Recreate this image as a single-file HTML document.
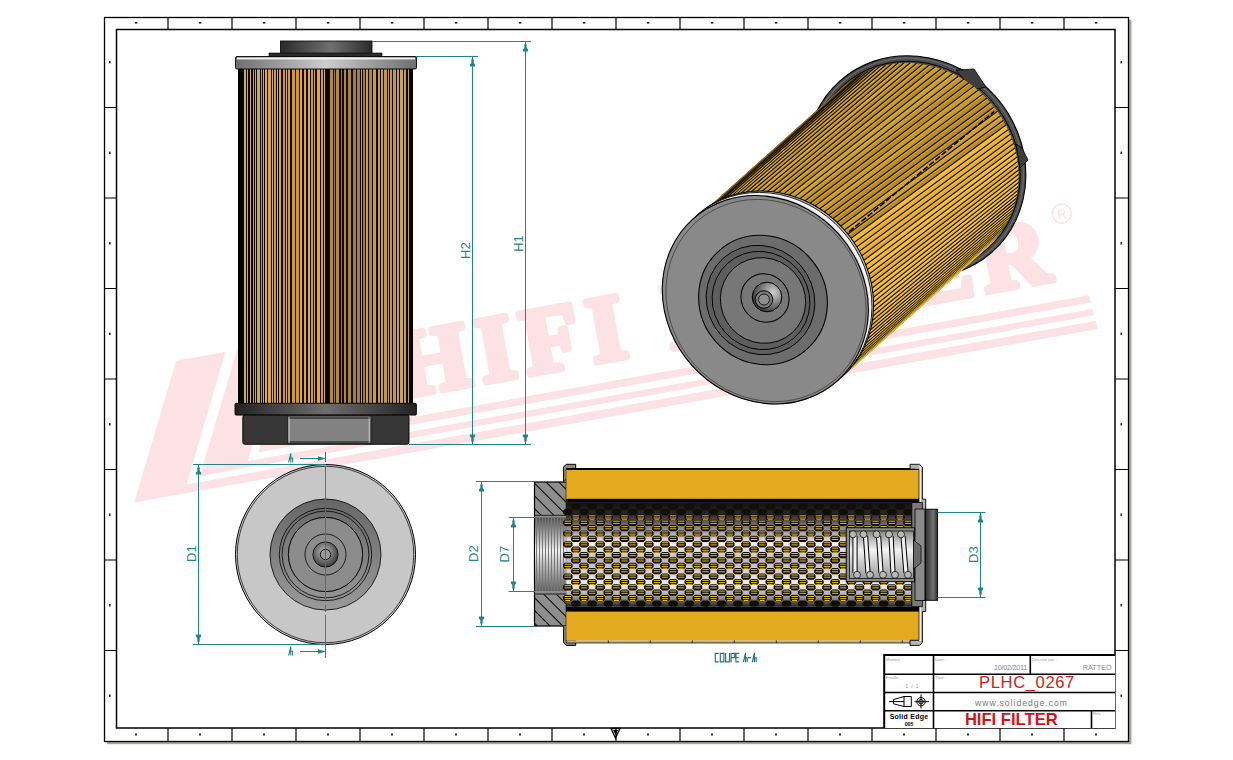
<!DOCTYPE html><html><head><meta charset="utf-8"><style>
html,body{margin:0;padding:0;background:#fff;width:1233px;height:760px;overflow:hidden}
svg{display:block;font-family:"Liberation Sans",sans-serif}
</style></head><body>
<svg width="1233" height="760" viewBox="0 0 1233 760">
<rect width="1233" height="760" fill="#fff"/>
<defs>
<linearGradient id="gCap" x1="0" x2="1" y1="0" y2="0">
 <stop offset="0" stop-color="#2a2a2a"/><stop offset="0.55" stop-color="#707070"/><stop offset="1" stop-color="#2a2a2a"/>
</linearGradient>
<linearGradient id="gRim" x1="0" x2="1" y1="0" y2="0">
 <stop offset="0" stop-color="#6e6e6e"/><stop offset="0.5" stop-color="#cdcdcd"/><stop offset="1" stop-color="#6e6e6e"/>
</linearGradient>
<linearGradient id="gRimB" x1="0" x2="1" y1="0" y2="0">
 <stop offset="0" stop-color="#222"/><stop offset="0.5" stop-color="#6e6e6e"/><stop offset="1" stop-color="#222"/>
</linearGradient>
<linearGradient id="gFace" x1="0" x2="1" y1="0" y2="0">
 <stop offset="0" stop-color="#5a5a5a"/><stop offset="0.5" stop-color="#8a8a8a"/><stop offset="1" stop-color="#5e5e5e"/>
</linearGradient>
<linearGradient id="gTube" x1="0" x2="0" y1="0" y2="1">
 <stop offset="0" stop-color="#101010"/><stop offset="0.12" stop-color="#2a2a2e"/><stop offset="0.25" stop-color="#8a8a92"/><stop offset="0.4" stop-color="#f2f2f6"/>
 <stop offset="0.55" stop-color="#b8b8c0"/><stop offset="0.8" stop-color="#f0f0f4"/><stop offset="0.92" stop-color="#8a8a90"/><stop offset="1" stop-color="#202020"/>
</linearGradient>
<linearGradient id="gThread" x1="0" x2="0" y1="0" y2="1">
 <stop offset="0" stop-color="#505050"/><stop offset="0.45" stop-color="#f0f0f0"/><stop offset="1" stop-color="#606060"/>
</linearGradient>
<linearGradient id="gEnd" x1="0" x2="1" y1="0" y2="0">
 <stop offset="0" stop-color="#2e2e2e"/><stop offset="0.65" stop-color="#727272"/><stop offset="1" stop-color="#2a2a2a"/>
</linearGradient>
<linearGradient id="gSpring" x1="0" x2="0" y1="0" y2="1">
 <stop offset="0" stop-color="#8a8a8a"/><stop offset="0.4" stop-color="#f4f4f4"/><stop offset="1" stop-color="#9a9a9a"/>
</linearGradient>
<linearGradient id="gDark" x1="0" x2="0" y1="0" y2="1">
 <stop offset="0" stop-color="#666"/><stop offset="1" stop-color="#9a9a9a"/>
</linearGradient>
<radialGradient id="gHub" cx="0.45" cy="0.4" r="0.6">
 <stop offset="0" stop-color="#bdbdbd"/><stop offset="1" stop-color="#3a3a3a"/>
</radialGradient>
<pattern id="hatch" width="9" height="9" patternUnits="userSpaceOnUse" patternTransform="translate(534,482) rotate(45)">
 <rect width="9" height="9" fill="#8e8e8e"/><rect x="0" y="0" width="9" height="1" fill="#000"/>
</pattern>
</defs>
<defs><filter id="fBlur" x="-5%" y="-5%" width="110%" height="110%"><feGaussianBlur stdDeviation="0.7"/></filter></defs>
<g filter="url(#fBlur)"><g transform="translate(134.3,502.4) rotate(-10.20)" fill="#fde2e5">
<polygon points="66.2,-132 116.3,-132 54.5,-8.4 978,-8.4 979,0 0,0"/>
<polygon points="128.1,-132 172.4,-132 119.2,-20.6 977,-20.6 978,-14.2 69.2,-14.2"/>
<polygon points="184.2,-132 228,-132 181.5,-34.8 976,-34.8 977,-27.3 131,-27.3"/>
<text x="282" y="-56" font-family="Liberation Serif" font-weight="bold" font-size="94" letter-spacing="9.25" stroke="#fde2e5" stroke-width="6.5" stroke-linejoin="round">HIFI FILTER</text>
<circle cx="964" cy="-120" r="9.5" fill="none" stroke="#fde2e5" stroke-width="1.6"/>
<text x="964" y="-115" font-size="13" text-anchor="middle" font-family="Liberation Sans">R</text>
</g></g>
<rect x="1129" y="20" width="2.5" height="724" fill="#a6a69e"/>
<rect x="107" y="742" width="1024" height="2.2" fill="#a6a69e"/>
<rect x="104.5" y="17.5" width="1024" height="724" fill="none" stroke="#000" stroke-width="1.3"/>
<rect x="116.5" y="29.5" width="998.5" height="698.5" fill="none" stroke="#000" stroke-width="1.5"/>
<path d="M168.0 17.5V29.5M168.0 728V741.5M232.0 17.5V29.5M232.0 728V741.5M296.0 17.5V29.5M296.0 728V741.5M360.0 17.5V29.5M360.0 728V741.5M424.0 17.5V29.5M424.0 728V741.5M488.0 17.5V29.5M488.0 728V741.5M552.0 17.5V29.5M552.0 728V741.5M616.0 17.5V29.5M616.0 728V741.5M680.0 17.5V29.5M680.0 728V741.5M744.0 17.5V29.5M744.0 728V741.5M808.0 17.5V29.5M808.0 728V741.5M872.0 17.5V29.5M872.0 728V741.5M936.0 17.5V29.5M936.0 728V741.5M1000.0 17.5V29.5M1000.0 728V741.5M1064.0 17.5V29.5M1064.0 728V741.5M104.5 107.5H116.5M1115 107.5H1128.5M104.5 198.0H116.5M1115 198.0H1128.5M104.5 288.5H116.5M1115 288.5H1128.5M104.5 379.0H116.5M1115 379.0H1128.5M104.5 469.5H116.5M1115 469.5H1128.5M104.5 560.0H116.5M1115 560.0H1128.5M104.5 650.5H116.5M1115 650.5H1128.5" stroke="#000" stroke-width="1.2" fill="none"/>
<g fill="#222"><rect x="134.8" y="22" width="2.5" height="1.6"/><rect x="135.0" y="733.5" width="2" height="2"/><rect x="198.8" y="22" width="2.5" height="1.6"/><rect x="199.0" y="733.5" width="2" height="2"/><rect x="262.8" y="22" width="2.5" height="1.6"/><rect x="263.0" y="733.5" width="2" height="2"/><rect x="326.8" y="22" width="2.5" height="1.6"/><rect x="327.0" y="733.5" width="2" height="2"/><rect x="390.8" y="22" width="2.5" height="1.6"/><rect x="391.0" y="733.5" width="2" height="2"/><rect x="454.8" y="22" width="2.5" height="1.6"/><rect x="455.0" y="733.5" width="2" height="2"/><rect x="518.8" y="22" width="2.5" height="1.6"/><rect x="519.0" y="733.5" width="2" height="2"/><rect x="582.8" y="22" width="2.5" height="1.6"/><rect x="583.0" y="733.5" width="2" height="2"/><rect x="646.8" y="22" width="2.5" height="1.6"/><rect x="647.0" y="733.5" width="2" height="2"/><rect x="710.8" y="22" width="2.5" height="1.6"/><rect x="711.0" y="733.5" width="2" height="2"/><rect x="774.8" y="22" width="2.5" height="1.6"/><rect x="775.0" y="733.5" width="2" height="2"/><rect x="838.8" y="22" width="2.5" height="1.6"/><rect x="839.0" y="733.5" width="2" height="2"/><rect x="902.8" y="22" width="2.5" height="1.6"/><rect x="903.0" y="733.5" width="2" height="2"/><rect x="966.8" y="22" width="2.5" height="1.6"/><rect x="967.0" y="733.5" width="2" height="2"/><rect x="1030.8" y="22" width="2.5" height="1.6"/><rect x="1031.0" y="733.5" width="2" height="2"/><rect x="1094.8" y="22" width="2.5" height="1.6"/><rect x="1095.0" y="733.5" width="2" height="2"/><rect x="109" y="61.0" width="1.6" height="2.4"/><rect x="1120.5" y="61.0" width="1.6" height="2.4"/><rect x="109" y="151.6" width="1.6" height="2.4"/><rect x="1120.5" y="151.6" width="1.6" height="2.4"/><rect x="109" y="242.1" width="1.6" height="2.4"/><rect x="1120.5" y="242.1" width="1.6" height="2.4"/><rect x="109" y="332.6" width="1.6" height="2.4"/><rect x="1120.5" y="332.6" width="1.6" height="2.4"/><rect x="109" y="423.1" width="1.6" height="2.4"/><rect x="1120.5" y="423.1" width="1.6" height="2.4"/><rect x="109" y="513.5" width="1.6" height="2.4"/><rect x="1120.5" y="513.5" width="1.6" height="2.4"/><rect x="109" y="604.0" width="1.6" height="2.4"/><rect x="1120.5" y="604.0" width="1.6" height="2.4"/><rect x="109" y="694.5" width="1.6" height="2.4"/><rect x="1120.5" y="694.5" width="1.6" height="2.4"/></g>
<path d="M611 728.5 L620 728.5 L615.5 738 Z" fill="none" stroke="#000" stroke-width="1.3"/><path d="M613 730 L618 730 L615.5 735Z" fill="#000"/>
<rect x="238" y="69" width="175" height="334.5" fill="#120600"/>
<rect x="238" y="69" width="6" height="334.5" fill="#000"/>
<rect x="244" y="69" width="2" height="334.5" fill="#c8aa60"/><rect x="247" y="69" width="1" height="334.5" fill="#c8aa60"/><rect x="250" y="69" width="1" height="334.5" fill="#d4b462"/><rect x="253" y="69" width="1" height="334.5" fill="#c0a458"/><rect x="255" y="69" width="1" height="334.5" fill="#c8aa60"/><rect x="257" y="69" width="3" height="334.5" fill="#c8aa60"/><rect x="261" y="69" width="1" height="334.5" fill="#c0a458"/><rect x="263" y="69" width="1" height="334.5" fill="#d8b050"/><rect x="265" y="69" width="2" height="334.5" fill="#d8b050"/><rect x="268" y="69" width="3" height="334.5" fill="#dca828"/><rect x="272" y="69" width="1" height="334.5" fill="#d8b050"/><rect x="274" y="69" width="2" height="334.5" fill="#c8a040"/><rect x="277" y="69" width="1" height="334.5" fill="#d8b050"/><rect x="279" y="69" width="2" height="334.5" fill="#dca828"/><rect x="283" y="69" width="2" height="334.5" fill="#d09a20"/><rect x="286" y="69" width="1" height="334.5" fill="#d8b050"/><rect x="288" y="69" width="2" height="334.5" fill="#c8a040"/><rect x="292" y="69" width="3" height="334.5" fill="#d09a20"/><rect x="296" y="69" width="3" height="334.5" fill="#d09a20"/><rect x="300" y="69" width="2" height="334.5" fill="#e4ac2a"/><rect x="304" y="69" width="2" height="334.5" fill="#dca828"/><rect x="308" y="69" width="2" height="334.5" fill="#d8b050"/><rect x="311" y="69" width="2" height="334.5" fill="#c8a040"/><rect x="314" y="69" width="1" height="334.5" fill="#dca828"/><rect x="317" y="69" width="3" height="334.5" fill="#e4ac2a"/><rect x="321" y="69" width="2" height="334.5" fill="#c8a040"/><rect x="324" y="69" width="1" height="334.5" fill="#dca828"/><rect x="330" y="69" width="3" height="334.5" fill="#b08c30"/><rect x="334" y="69" width="1" height="334.5" fill="#9a7a28"/><rect x="336" y="69" width="3" height="334.5" fill="#b08c30"/><rect x="341" y="69" width="1" height="334.5" fill="#9a7a28"/><rect x="344" y="69" width="2" height="334.5" fill="#b08c30"/><rect x="348" y="69" width="3" height="334.5" fill="#a88830"/><rect x="353" y="69" width="3" height="334.5" fill="#a08038"/><rect x="357" y="69" width="3" height="334.5" fill="#a08038"/><rect x="361" y="69" width="1" height="334.5" fill="#c8a038"/><rect x="363" y="69" width="2" height="334.5" fill="#a08038"/><rect x="366" y="69" width="2" height="334.5" fill="#c8a038"/><rect x="369" y="69" width="3" height="334.5" fill="#b08a30"/><rect x="373" y="69" width="3" height="334.5" fill="#c8a038"/><rect x="378" y="69" width="2" height="334.5" fill="#c09a40"/><rect x="381" y="69" width="2" height="334.5" fill="#c8a038"/><rect x="384" y="69" width="3" height="334.5" fill="#c09a40"/><rect x="388" y="69" width="1" height="334.5" fill="#c09a40"/><rect x="390" y="69" width="2" height="334.5" fill="#c09a40"/><rect x="393" y="69" width="3" height="334.5" fill="#c09a40"/><rect x="397" y="69" width="2" height="334.5" fill="#c0a060"/><rect x="400" y="69" width="3" height="334.5" fill="#c8a858"/><rect x="404" y="69" width="2" height="334.5" fill="#c0a060"/><rect x="408" y="69" width="1" height="334.5" fill="#b8a070"/>
<rect x="326" y="69" width="2.5" height="334.5" fill="#000"/>
<rect x="411" y="69" width="2" height="334.5" fill="#000"/>
<rect x="280.5" y="41" width="91.5" height="12.5" fill="url(#gCap)" stroke="#000" stroke-width="0.8"/>
<rect x="269" y="53" width="113" height="3.5" fill="#2a2a2a" stroke="#000" stroke-width="0.6"/>
<rect x="235.5" y="56.5" width="181" height="12.5" rx="1.5" fill="url(#gRim)" stroke="#000" stroke-width="0.9"/>
<rect x="237" y="57.6" width="178" height="1.8" fill="#f4f4f4"/>
<rect x="235" y="403.3" width="181.4" height="11.8" rx="1.2" fill="url(#gRimB)" stroke="#000" stroke-width="0.9"/>
<rect x="242.8" y="415.1" width="166.2" height="29.2" rx="2" fill="#363636" stroke="#000" stroke-width="0.9"/>
<rect x="287.4" y="416" width="83.6" height="27.6" fill="#828282" stroke="#1a1a1a" stroke-width="0.8"/>
<path d="M290 418H368.5M290 442H368.5" stroke="#111" stroke-width="1"/>
<path d="M289.2 419V441M369.2 419V441" stroke="#bdbdbd" stroke-width="1.2"/>
<g stroke="#1f8585" stroke-width="1" fill="none">
<path d="M372 41.5H531M416 56.5H478M409 444.5H531"/>
<path d="M472.5 56.5V444.5M525.5 41.5V444.5"/>
</g>
<path d="M472.5 57.5 l-1.2 2.5 v3 l-1.4 1.6 v1.8 h5.2 v-1.8 l-1.4 -1.6 v-3 Z" fill="#1f8585"/><path d="M525.5 42.5 l-1.2 2.5 v3 l-1.4 1.6 v1.8 h5.2 v-1.8 l-1.4 -1.6 v-3 Z" fill="#1f8585"/><path d="M472.5 443.5 l-1.2 -2.5 v-3 l-1.4 -1.6 v-1.8 h5.2 v1.8 l-1.4 1.6 v3 Z" fill="#1f8585"/><path d="M525.5 443.5 l-1.2 -2.5 v-3 l-1.4 -1.6 v-1.8 h5.2 v1.8 l-1.4 1.6 v3 Z" fill="#1f8585"/>
<g fill="#1f8585" font-size="13" font-family="Liberation Sans">
<text transform="translate(469.5,259) rotate(-90)">H2</text>
<text transform="translate(522.5,251.8) rotate(-90)">H1</text>
</g>
<circle cx="325.5" cy="554.5" r="90" fill="#c7c7c7" stroke="#000" stroke-width="1"/>
<circle cx="325.5" cy="554.5" r="88.2" fill="none" stroke="#000" stroke-width="0.7"/>
<circle cx="325.5" cy="554.5" r="55.5" fill="url(#gDark)" stroke="#000" stroke-width="0.8"/>
<circle cx="325.5" cy="554.5" r="46.2" fill="none" stroke="#000" stroke-width="0.8"/>
<circle cx="325.5" cy="554.5" r="43.4" fill="none" stroke="#000" stroke-width="0.8"/>
<circle cx="325.5" cy="554.5" r="37.1" fill="none" stroke="#000" stroke-width="0.8"/>
<circle cx="325.5" cy="554.5" r="37" fill="#8c8c8c"/>
<circle cx="325.5" cy="554.5" r="37.1" fill="none" stroke="#000" stroke-width="0.8"/>
<circle cx="325.5" cy="554.5" r="20.5" fill="none" stroke="#000" stroke-width="0.8"/>
<circle cx="325.5" cy="554.5" r="12.6" fill="url(#gHub)" stroke="#000" stroke-width="0.8"/>
<circle cx="325.5" cy="554.5" r="5.2" fill="#9a9a9a" stroke="#000" stroke-width="0.9"/>
<g stroke="#1f8585" stroke-width="1" fill="none">
<path d="M325.5 452V462M325.5 466V500M325.5 503V512M325.5 515V600M325.5 605V612M325.5 615V648M325.5 648V658" />
<path d="M193 464.5H325.5M193 644.5H325.5M198.5 464.5V644.5"/>
<path d="M300 458.5H318M300 651.5H318"/>
</g>
<path d="M326 458.5 l-8 -2.2 v4.4Z M326 651.5 l-8 -2.2 v4.4Z" fill="#1f8585"/>
<path d="M198.5 465.5 l-1.2 2.5 v3 l-1.4 1.6 v1.8 h5.2 v-1.8 l-1.4 -1.6 v-3 Z" fill="#1f8585"/><path d="M198.5 643.5 l-1.2 -2.5 v-3 l-1.4 -1.6 v-1.8 h5.2 v1.8 l-1.4 1.6 v3 Z" fill="#1f8585"/>
<g fill="#1f8585" font-size="13" font-family="Liberation Sans">
<text transform="translate(195.5,562) rotate(-90)">D1</text>
</g>
<path d="M288.6 462.4L290.8 453.4V462.4M289.1 458H292.6V462.4 M288.6 655.6L290.8 646.6V655.6M289.1 651.2H292.6V655.6" stroke="#1f8585" stroke-width="1.1" fill="none"/>
<rect x="534.5" y="482" width="31.8" height="144" fill="url(#hatch)" stroke="#000" stroke-width="1.2"/>
<rect x="535" y="515" width="31.3" height="79.5" fill="#8e8e8e"/>
<rect x="535" y="517.5" width="31.3" height="73.5" fill="url(#gThread)"/>
<rect x="536" y="517.5" width="1" height="73.5" fill="#777"/><rect x="539" y="517.5" width="1" height="73.5" fill="#777"/><rect x="542" y="517.5" width="1" height="73.5" fill="#777"/><rect x="545" y="517.5" width="1" height="73.5" fill="#777"/><rect x="548" y="517.5" width="1" height="73.5" fill="#777"/><rect x="551" y="517.5" width="1" height="73.5" fill="#777"/><rect x="554" y="517.5" width="1" height="73.5" fill="#777"/><rect x="557" y="517.5" width="1" height="73.5" fill="#777"/><rect x="560" y="517.5" width="1" height="73.5" fill="#777"/><rect x="563" y="517.5" width="1" height="73.5" fill="#777"/>
<path d="M535 515.3H566M535 594H566" stroke="#000" stroke-width="0.8"/>
<path d="M563.6 482 V467 L566.2 464.3 H575.7 V469.4 H566.3 V482" fill="#8c8c8c" stroke="#000" stroke-width="1"/>
<path d="M563.6 626 V642.5 L566.2 645.4 H575.7 V640.3 H566.3 V626" fill="#8c8c8c" stroke="#000" stroke-width="1"/>
<path d="M563.6 482 L566.3 479" stroke="#000" stroke-width="0.8"/>
<rect x="566.3" y="468.4" width="352.8" height="31" fill="#e4aa1e"/>
<rect x="566.3" y="468" width="352.8" height="2" fill="#000"/>
<rect x="566.3" y="498.8" width="352.8" height="4" fill="#000"/>
<rect x="566.3" y="502.5" width="352.8" height="104.2" fill="url(#gTube)"/>
<g fill="#140e02"><polygon points="571.1,505.3 573.0,503.5 578.8,503.5 580.7,505.3 580.7,507.9 578.8,509.7 573.0,509.7 571.1,507.9"/><polygon points="587.3,505.3 589.2,503.5 595.0,503.5 596.9,505.3 596.9,507.9 595.0,509.7 589.2,509.7 587.3,507.9"/><polygon points="603.5,505.3 605.4,503.5 611.2,503.5 613.1,505.3 613.1,507.9 611.2,509.7 605.4,509.7 603.5,507.9"/><polygon points="619.7,505.3 621.6,503.5 627.4,503.5 629.3,505.3 629.3,507.9 627.4,509.7 621.6,509.7 619.7,507.9"/><polygon points="635.9,505.3 637.8,503.5 643.6,503.5 645.5,505.3 645.5,507.9 643.6,509.7 637.8,509.7 635.9,507.9"/><polygon points="652.1,505.3 654.0,503.5 659.8,503.5 661.7,505.3 661.7,507.9 659.8,509.7 654.0,509.7 652.1,507.9"/><polygon points="668.3,505.3 670.2,503.5 676.0,503.5 677.9,505.3 677.9,507.9 676.0,509.7 670.2,509.7 668.3,507.9"/><polygon points="684.5,505.3 686.4,503.5 692.2,503.5 694.1,505.3 694.1,507.9 692.2,509.7 686.4,509.7 684.5,507.9"/><polygon points="700.7,505.3 702.6,503.5 708.4,503.5 710.3,505.3 710.3,507.9 708.4,509.7 702.6,509.7 700.7,507.9"/><polygon points="716.9,505.3 718.8,503.5 724.6,503.5 726.5,505.3 726.5,507.9 724.6,509.7 718.8,509.7 716.9,507.9"/><polygon points="733.1,505.3 735.0,503.5 740.8,503.5 742.7,505.3 742.7,507.9 740.8,509.7 735.0,509.7 733.1,507.9"/><polygon points="749.3,505.3 751.2,503.5 757.0,503.5 758.9,505.3 758.9,507.9 757.0,509.7 751.2,509.7 749.3,507.9"/><polygon points="765.5,505.3 767.4,503.5 773.2,503.5 775.1,505.3 775.1,507.9 773.2,509.7 767.4,509.7 765.5,507.9"/><polygon points="781.7,505.3 783.6,503.5 789.4,503.5 791.3,505.3 791.3,507.9 789.4,509.7 783.6,509.7 781.7,507.9"/><polygon points="797.9,505.3 799.8,503.5 805.6,503.5 807.5,505.3 807.5,507.9 805.6,509.7 799.8,509.7 797.9,507.9"/><polygon points="814.1,505.3 816.0,503.5 821.8,503.5 823.7,505.3 823.7,507.9 821.8,509.7 816.0,509.7 814.1,507.9"/><polygon points="830.3,505.3 832.2,503.5 838.0,503.5 839.9,505.3 839.9,507.9 838.0,509.7 832.2,509.7 830.3,507.9"/><polygon points="846.5,505.3 848.4,503.5 854.2,503.5 856.1,505.3 856.1,507.9 854.2,509.7 848.4,509.7 846.5,507.9"/><polygon points="862.7,505.3 864.6,503.5 870.4,503.5 872.3,505.3 872.3,507.9 870.4,509.7 864.6,509.7 862.7,507.9"/><polygon points="878.9,505.3 880.8,503.5 886.6,503.5 888.5,505.3 888.5,507.9 886.6,509.7 880.8,509.7 878.9,507.9"/><polygon points="895.1,505.3 897.0,503.5 902.8,503.5 904.7,505.3 904.7,507.9 902.8,509.7 897.0,509.7 895.1,507.9"/><polygon points="911.3,505.3 913.2,503.5 919.0,503.5 920.9,505.3 920.9,507.9 919.0,509.7 913.2,509.7 911.3,507.9"/><polygon points="563.0,510.7 564.9,508.9 570.7,508.9 572.6,510.7 572.6,513.3 570.7,515.1 564.9,515.1 563.0,513.3"/><polygon points="579.2,510.7 581.1,508.9 586.9,508.9 588.8,510.7 588.8,513.3 586.9,515.1 581.1,515.1 579.2,513.3"/><polygon points="595.4,510.7 597.3,508.9 603.1,508.9 605.0,510.7 605.0,513.3 603.1,515.1 597.3,515.1 595.4,513.3"/><polygon points="611.6,510.7 613.5,508.9 619.3,508.9 621.2,510.7 621.2,513.3 619.3,515.1 613.5,515.1 611.6,513.3"/><polygon points="627.8,510.7 629.7,508.9 635.5,508.9 637.4,510.7 637.4,513.3 635.5,515.1 629.7,515.1 627.8,513.3"/><polygon points="644.0,510.7 645.9,508.9 651.7,508.9 653.6,510.7 653.6,513.3 651.7,515.1 645.9,515.1 644.0,513.3"/><polygon points="660.2,510.7 662.1,508.9 667.9,508.9 669.8,510.7 669.8,513.3 667.9,515.1 662.1,515.1 660.2,513.3"/><polygon points="676.4,510.7 678.3,508.9 684.1,508.9 686.0,510.7 686.0,513.3 684.1,515.1 678.3,515.1 676.4,513.3"/><polygon points="692.6,510.7 694.5,508.9 700.3,508.9 702.2,510.7 702.2,513.3 700.3,515.1 694.5,515.1 692.6,513.3"/><polygon points="708.8,510.7 710.7,508.9 716.5,508.9 718.4,510.7 718.4,513.3 716.5,515.1 710.7,515.1 708.8,513.3"/><polygon points="725.0,510.7 726.9,508.9 732.7,508.9 734.6,510.7 734.6,513.3 732.7,515.1 726.9,515.1 725.0,513.3"/><polygon points="741.2,510.7 743.1,508.9 748.9,508.9 750.8,510.7 750.8,513.3 748.9,515.1 743.1,515.1 741.2,513.3"/><polygon points="757.4,510.7 759.3,508.9 765.1,508.9 767.0,510.7 767.0,513.3 765.1,515.1 759.3,515.1 757.4,513.3"/><polygon points="773.6,510.7 775.5,508.9 781.3,508.9 783.2,510.7 783.2,513.3 781.3,515.1 775.5,515.1 773.6,513.3"/><polygon points="789.8,510.7 791.7,508.9 797.5,508.9 799.4,510.7 799.4,513.3 797.5,515.1 791.7,515.1 789.8,513.3"/><polygon points="806.0,510.7 807.9,508.9 813.7,508.9 815.6,510.7 815.6,513.3 813.7,515.1 807.9,515.1 806.0,513.3"/><polygon points="822.2,510.7 824.1,508.9 829.9,508.9 831.8,510.7 831.8,513.3 829.9,515.1 824.1,515.1 822.2,513.3"/><polygon points="838.4,510.7 840.3,508.9 846.1,508.9 848.0,510.7 848.0,513.3 846.1,515.1 840.3,515.1 838.4,513.3"/><polygon points="854.6,510.7 856.5,508.9 862.3,508.9 864.2,510.7 864.2,513.3 862.3,515.1 856.5,515.1 854.6,513.3"/><polygon points="870.8,510.7 872.7,508.9 878.5,508.9 880.4,510.7 880.4,513.3 878.5,515.1 872.7,515.1 870.8,513.3"/><polygon points="887.0,510.7 888.9,508.9 894.7,508.9 896.6,510.7 896.6,513.3 894.7,515.1 888.9,515.1 887.0,513.3"/><polygon points="903.2,510.7 905.1,508.9 910.9,508.9 912.8,510.7 912.8,513.3 910.9,515.1 905.1,515.1 903.2,513.3"/><polygon points="571.1,516.1 573.0,514.3 578.8,514.3 580.7,516.1 580.7,518.7 578.8,520.5 573.0,520.5 571.1,518.7"/><polygon points="587.3,516.1 589.2,514.3 595.0,514.3 596.9,516.1 596.9,518.7 595.0,520.5 589.2,520.5 587.3,518.7"/><polygon points="603.5,516.1 605.4,514.3 611.2,514.3 613.1,516.1 613.1,518.7 611.2,520.5 605.4,520.5 603.5,518.7"/><polygon points="619.7,516.1 621.6,514.3 627.4,514.3 629.3,516.1 629.3,518.7 627.4,520.5 621.6,520.5 619.7,518.7"/><polygon points="635.9,516.1 637.8,514.3 643.6,514.3 645.5,516.1 645.5,518.7 643.6,520.5 637.8,520.5 635.9,518.7"/><polygon points="652.1,516.1 654.0,514.3 659.8,514.3 661.7,516.1 661.7,518.7 659.8,520.5 654.0,520.5 652.1,518.7"/><polygon points="668.3,516.1 670.2,514.3 676.0,514.3 677.9,516.1 677.9,518.7 676.0,520.5 670.2,520.5 668.3,518.7"/><polygon points="684.5,516.1 686.4,514.3 692.2,514.3 694.1,516.1 694.1,518.7 692.2,520.5 686.4,520.5 684.5,518.7"/><polygon points="700.7,516.1 702.6,514.3 708.4,514.3 710.3,516.1 710.3,518.7 708.4,520.5 702.6,520.5 700.7,518.7"/><polygon points="716.9,516.1 718.8,514.3 724.6,514.3 726.5,516.1 726.5,518.7 724.6,520.5 718.8,520.5 716.9,518.7"/><polygon points="733.1,516.1 735.0,514.3 740.8,514.3 742.7,516.1 742.7,518.7 740.8,520.5 735.0,520.5 733.1,518.7"/><polygon points="749.3,516.1 751.2,514.3 757.0,514.3 758.9,516.1 758.9,518.7 757.0,520.5 751.2,520.5 749.3,518.7"/><polygon points="765.5,516.1 767.4,514.3 773.2,514.3 775.1,516.1 775.1,518.7 773.2,520.5 767.4,520.5 765.5,518.7"/><polygon points="781.7,516.1 783.6,514.3 789.4,514.3 791.3,516.1 791.3,518.7 789.4,520.5 783.6,520.5 781.7,518.7"/><polygon points="797.9,516.1 799.8,514.3 805.6,514.3 807.5,516.1 807.5,518.7 805.6,520.5 799.8,520.5 797.9,518.7"/><polygon points="814.1,516.1 816.0,514.3 821.8,514.3 823.7,516.1 823.7,518.7 821.8,520.5 816.0,520.5 814.1,518.7"/><polygon points="830.3,516.1 832.2,514.3 838.0,514.3 839.9,516.1 839.9,518.7 838.0,520.5 832.2,520.5 830.3,518.7"/><polygon points="846.5,516.1 848.4,514.3 854.2,514.3 856.1,516.1 856.1,518.7 854.2,520.5 848.4,520.5 846.5,518.7"/><polygon points="862.7,516.1 864.6,514.3 870.4,514.3 872.3,516.1 872.3,518.7 870.4,520.5 864.6,520.5 862.7,518.7"/><polygon points="878.9,516.1 880.8,514.3 886.6,514.3 888.5,516.1 888.5,518.7 886.6,520.5 880.8,520.5 878.9,518.7"/><polygon points="895.1,516.1 897.0,514.3 902.8,514.3 904.7,516.1 904.7,518.7 902.8,520.5 897.0,520.5 895.1,518.7"/><polygon points="911.3,516.1 913.2,514.3 919.0,514.3 920.9,516.1 920.9,518.7 919.0,520.5 913.2,520.5 911.3,518.7"/><polygon points="563.0,521.5 564.9,519.7 570.7,519.7 572.6,521.5 572.6,524.1 570.7,525.9 564.9,525.9 563.0,524.1"/><polygon points="579.2,521.5 581.1,519.7 586.9,519.7 588.8,521.5 588.8,524.1 586.9,525.9 581.1,525.9 579.2,524.1"/><polygon points="595.4,521.5 597.3,519.7 603.1,519.7 605.0,521.5 605.0,524.1 603.1,525.9 597.3,525.9 595.4,524.1"/><polygon points="611.6,521.5 613.5,519.7 619.3,519.7 621.2,521.5 621.2,524.1 619.3,525.9 613.5,525.9 611.6,524.1"/><polygon points="627.8,521.5 629.7,519.7 635.5,519.7 637.4,521.5 637.4,524.1 635.5,525.9 629.7,525.9 627.8,524.1"/><polygon points="644.0,521.5 645.9,519.7 651.7,519.7 653.6,521.5 653.6,524.1 651.7,525.9 645.9,525.9 644.0,524.1"/><polygon points="660.2,521.5 662.1,519.7 667.9,519.7 669.8,521.5 669.8,524.1 667.9,525.9 662.1,525.9 660.2,524.1"/><polygon points="676.4,521.5 678.3,519.7 684.1,519.7 686.0,521.5 686.0,524.1 684.1,525.9 678.3,525.9 676.4,524.1"/><polygon points="692.6,521.5 694.5,519.7 700.3,519.7 702.2,521.5 702.2,524.1 700.3,525.9 694.5,525.9 692.6,524.1"/><polygon points="708.8,521.5 710.7,519.7 716.5,519.7 718.4,521.5 718.4,524.1 716.5,525.9 710.7,525.9 708.8,524.1"/><polygon points="725.0,521.5 726.9,519.7 732.7,519.7 734.6,521.5 734.6,524.1 732.7,525.9 726.9,525.9 725.0,524.1"/><polygon points="741.2,521.5 743.1,519.7 748.9,519.7 750.8,521.5 750.8,524.1 748.9,525.9 743.1,525.9 741.2,524.1"/><polygon points="757.4,521.5 759.3,519.7 765.1,519.7 767.0,521.5 767.0,524.1 765.1,525.9 759.3,525.9 757.4,524.1"/><polygon points="773.6,521.5 775.5,519.7 781.3,519.7 783.2,521.5 783.2,524.1 781.3,525.9 775.5,525.9 773.6,524.1"/><polygon points="789.8,521.5 791.7,519.7 797.5,519.7 799.4,521.5 799.4,524.1 797.5,525.9 791.7,525.9 789.8,524.1"/><polygon points="806.0,521.5 807.9,519.7 813.7,519.7 815.6,521.5 815.6,524.1 813.7,525.9 807.9,525.9 806.0,524.1"/><polygon points="822.2,521.5 824.1,519.7 829.9,519.7 831.8,521.5 831.8,524.1 829.9,525.9 824.1,525.9 822.2,524.1"/><polygon points="838.4,521.5 840.3,519.7 846.1,519.7 848.0,521.5 848.0,524.1 846.1,525.9 840.3,525.9 838.4,524.1"/><polygon points="854.6,521.5 856.5,519.7 862.3,519.7 864.2,521.5 864.2,524.1 862.3,525.9 856.5,525.9 854.6,524.1"/><polygon points="870.8,521.5 872.7,519.7 878.5,519.7 880.4,521.5 880.4,524.1 878.5,525.9 872.7,525.9 870.8,524.1"/><polygon points="887.0,521.5 888.9,519.7 894.7,519.7 896.6,521.5 896.6,524.1 894.7,525.9 888.9,525.9 887.0,524.1"/><polygon points="903.2,521.5 905.1,519.7 910.9,519.7 912.8,521.5 912.8,524.1 910.9,525.9 905.1,525.9 903.2,524.1"/><polygon points="571.1,526.9 573.0,525.1 578.8,525.1 580.7,526.9 580.7,529.5 578.8,531.3 573.0,531.3 571.1,529.5"/><polygon points="587.3,526.9 589.2,525.1 595.0,525.1 596.9,526.9 596.9,529.5 595.0,531.3 589.2,531.3 587.3,529.5"/><polygon points="603.5,526.9 605.4,525.1 611.2,525.1 613.1,526.9 613.1,529.5 611.2,531.3 605.4,531.3 603.5,529.5"/><polygon points="619.7,526.9 621.6,525.1 627.4,525.1 629.3,526.9 629.3,529.5 627.4,531.3 621.6,531.3 619.7,529.5"/><polygon points="635.9,526.9 637.8,525.1 643.6,525.1 645.5,526.9 645.5,529.5 643.6,531.3 637.8,531.3 635.9,529.5"/><polygon points="652.1,526.9 654.0,525.1 659.8,525.1 661.7,526.9 661.7,529.5 659.8,531.3 654.0,531.3 652.1,529.5"/><polygon points="668.3,526.9 670.2,525.1 676.0,525.1 677.9,526.9 677.9,529.5 676.0,531.3 670.2,531.3 668.3,529.5"/><polygon points="684.5,526.9 686.4,525.1 692.2,525.1 694.1,526.9 694.1,529.5 692.2,531.3 686.4,531.3 684.5,529.5"/><polygon points="700.7,526.9 702.6,525.1 708.4,525.1 710.3,526.9 710.3,529.5 708.4,531.3 702.6,531.3 700.7,529.5"/><polygon points="716.9,526.9 718.8,525.1 724.6,525.1 726.5,526.9 726.5,529.5 724.6,531.3 718.8,531.3 716.9,529.5"/><polygon points="733.1,526.9 735.0,525.1 740.8,525.1 742.7,526.9 742.7,529.5 740.8,531.3 735.0,531.3 733.1,529.5"/><polygon points="749.3,526.9 751.2,525.1 757.0,525.1 758.9,526.9 758.9,529.5 757.0,531.3 751.2,531.3 749.3,529.5"/><polygon points="765.5,526.9 767.4,525.1 773.2,525.1 775.1,526.9 775.1,529.5 773.2,531.3 767.4,531.3 765.5,529.5"/><polygon points="781.7,526.9 783.6,525.1 789.4,525.1 791.3,526.9 791.3,529.5 789.4,531.3 783.6,531.3 781.7,529.5"/><polygon points="797.9,526.9 799.8,525.1 805.6,525.1 807.5,526.9 807.5,529.5 805.6,531.3 799.8,531.3 797.9,529.5"/><polygon points="814.1,526.9 816.0,525.1 821.8,525.1 823.7,526.9 823.7,529.5 821.8,531.3 816.0,531.3 814.1,529.5"/><polygon points="830.3,526.9 832.2,525.1 838.0,525.1 839.9,526.9 839.9,529.5 838.0,531.3 832.2,531.3 830.3,529.5"/><polygon points="846.5,526.9 848.4,525.1 854.2,525.1 856.1,526.9 856.1,529.5 854.2,531.3 848.4,531.3 846.5,529.5"/><polygon points="862.7,526.9 864.6,525.1 870.4,525.1 872.3,526.9 872.3,529.5 870.4,531.3 864.6,531.3 862.7,529.5"/><polygon points="878.9,526.9 880.8,525.1 886.6,525.1 888.5,526.9 888.5,529.5 886.6,531.3 880.8,531.3 878.9,529.5"/><polygon points="895.1,526.9 897.0,525.1 902.8,525.1 904.7,526.9 904.7,529.5 902.8,531.3 897.0,531.3 895.1,529.5"/><polygon points="911.3,526.9 913.2,525.1 919.0,525.1 920.9,526.9 920.9,529.5 919.0,531.3 913.2,531.3 911.3,529.5"/><polygon points="563.0,532.2 564.9,530.4 570.7,530.4 572.6,532.2 572.6,534.8 570.7,536.6 564.9,536.6 563.0,534.8"/><polygon points="579.2,532.2 581.1,530.4 586.9,530.4 588.8,532.2 588.8,534.8 586.9,536.6 581.1,536.6 579.2,534.8"/><polygon points="595.4,532.2 597.3,530.4 603.1,530.4 605.0,532.2 605.0,534.8 603.1,536.6 597.3,536.6 595.4,534.8"/><polygon points="611.6,532.2 613.5,530.4 619.3,530.4 621.2,532.2 621.2,534.8 619.3,536.6 613.5,536.6 611.6,534.8"/><polygon points="627.8,532.2 629.7,530.4 635.5,530.4 637.4,532.2 637.4,534.8 635.5,536.6 629.7,536.6 627.8,534.8"/><polygon points="644.0,532.2 645.9,530.4 651.7,530.4 653.6,532.2 653.6,534.8 651.7,536.6 645.9,536.6 644.0,534.8"/><polygon points="660.2,532.2 662.1,530.4 667.9,530.4 669.8,532.2 669.8,534.8 667.9,536.6 662.1,536.6 660.2,534.8"/><polygon points="676.4,532.2 678.3,530.4 684.1,530.4 686.0,532.2 686.0,534.8 684.1,536.6 678.3,536.6 676.4,534.8"/><polygon points="692.6,532.2 694.5,530.4 700.3,530.4 702.2,532.2 702.2,534.8 700.3,536.6 694.5,536.6 692.6,534.8"/><polygon points="708.8,532.2 710.7,530.4 716.5,530.4 718.4,532.2 718.4,534.8 716.5,536.6 710.7,536.6 708.8,534.8"/><polygon points="725.0,532.2 726.9,530.4 732.7,530.4 734.6,532.2 734.6,534.8 732.7,536.6 726.9,536.6 725.0,534.8"/><polygon points="741.2,532.2 743.1,530.4 748.9,530.4 750.8,532.2 750.8,534.8 748.9,536.6 743.1,536.6 741.2,534.8"/><polygon points="757.4,532.2 759.3,530.4 765.1,530.4 767.0,532.2 767.0,534.8 765.1,536.6 759.3,536.6 757.4,534.8"/><polygon points="773.6,532.2 775.5,530.4 781.3,530.4 783.2,532.2 783.2,534.8 781.3,536.6 775.5,536.6 773.6,534.8"/><polygon points="789.8,532.2 791.7,530.4 797.5,530.4 799.4,532.2 799.4,534.8 797.5,536.6 791.7,536.6 789.8,534.8"/><polygon points="806.0,532.2 807.9,530.4 813.7,530.4 815.6,532.2 815.6,534.8 813.7,536.6 807.9,536.6 806.0,534.8"/><polygon points="822.2,532.2 824.1,530.4 829.9,530.4 831.8,532.2 831.8,534.8 829.9,536.6 824.1,536.6 822.2,534.8"/><polygon points="838.4,532.2 840.3,530.4 846.1,530.4 848.0,532.2 848.0,534.8 846.1,536.6 840.3,536.6 838.4,534.8"/><polygon points="854.6,532.2 856.5,530.4 862.3,530.4 864.2,532.2 864.2,534.8 862.3,536.6 856.5,536.6 854.6,534.8"/><polygon points="870.8,532.2 872.7,530.4 878.5,530.4 880.4,532.2 880.4,534.8 878.5,536.6 872.7,536.6 870.8,534.8"/><polygon points="887.0,532.2 888.9,530.4 894.7,530.4 896.6,532.2 896.6,534.8 894.7,536.6 888.9,536.6 887.0,534.8"/><polygon points="903.2,532.2 905.1,530.4 910.9,530.4 912.8,532.2 912.8,534.8 910.9,536.6 905.1,536.6 903.2,534.8"/><polygon points="571.1,537.6 573.0,535.8 578.8,535.8 580.7,537.6 580.7,540.2 578.8,542.0 573.0,542.0 571.1,540.2"/><polygon points="587.3,537.6 589.2,535.8 595.0,535.8 596.9,537.6 596.9,540.2 595.0,542.0 589.2,542.0 587.3,540.2"/><polygon points="603.5,537.6 605.4,535.8 611.2,535.8 613.1,537.6 613.1,540.2 611.2,542.0 605.4,542.0 603.5,540.2"/><polygon points="619.7,537.6 621.6,535.8 627.4,535.8 629.3,537.6 629.3,540.2 627.4,542.0 621.6,542.0 619.7,540.2"/><polygon points="635.9,537.6 637.8,535.8 643.6,535.8 645.5,537.6 645.5,540.2 643.6,542.0 637.8,542.0 635.9,540.2"/><polygon points="652.1,537.6 654.0,535.8 659.8,535.8 661.7,537.6 661.7,540.2 659.8,542.0 654.0,542.0 652.1,540.2"/><polygon points="668.3,537.6 670.2,535.8 676.0,535.8 677.9,537.6 677.9,540.2 676.0,542.0 670.2,542.0 668.3,540.2"/><polygon points="684.5,537.6 686.4,535.8 692.2,535.8 694.1,537.6 694.1,540.2 692.2,542.0 686.4,542.0 684.5,540.2"/><polygon points="700.7,537.6 702.6,535.8 708.4,535.8 710.3,537.6 710.3,540.2 708.4,542.0 702.6,542.0 700.7,540.2"/><polygon points="716.9,537.6 718.8,535.8 724.6,535.8 726.5,537.6 726.5,540.2 724.6,542.0 718.8,542.0 716.9,540.2"/><polygon points="733.1,537.6 735.0,535.8 740.8,535.8 742.7,537.6 742.7,540.2 740.8,542.0 735.0,542.0 733.1,540.2"/><polygon points="749.3,537.6 751.2,535.8 757.0,535.8 758.9,537.6 758.9,540.2 757.0,542.0 751.2,542.0 749.3,540.2"/><polygon points="765.5,537.6 767.4,535.8 773.2,535.8 775.1,537.6 775.1,540.2 773.2,542.0 767.4,542.0 765.5,540.2"/><polygon points="781.7,537.6 783.6,535.8 789.4,535.8 791.3,537.6 791.3,540.2 789.4,542.0 783.6,542.0 781.7,540.2"/><polygon points="797.9,537.6 799.8,535.8 805.6,535.8 807.5,537.6 807.5,540.2 805.6,542.0 799.8,542.0 797.9,540.2"/><polygon points="814.1,537.6 816.0,535.8 821.8,535.8 823.7,537.6 823.7,540.2 821.8,542.0 816.0,542.0 814.1,540.2"/><polygon points="830.3,537.6 832.2,535.8 838.0,535.8 839.9,537.6 839.9,540.2 838.0,542.0 832.2,542.0 830.3,540.2"/><polygon points="846.5,537.6 848.4,535.8 854.2,535.8 856.1,537.6 856.1,540.2 854.2,542.0 848.4,542.0 846.5,540.2"/><polygon points="862.7,537.6 864.6,535.8 870.4,535.8 872.3,537.6 872.3,540.2 870.4,542.0 864.6,542.0 862.7,540.2"/><polygon points="878.9,537.6 880.8,535.8 886.6,535.8 888.5,537.6 888.5,540.2 886.6,542.0 880.8,542.0 878.9,540.2"/><polygon points="895.1,537.6 897.0,535.8 902.8,535.8 904.7,537.6 904.7,540.2 902.8,542.0 897.0,542.0 895.1,540.2"/><polygon points="911.3,537.6 913.2,535.8 919.0,535.8 920.9,537.6 920.9,540.2 919.0,542.0 913.2,542.0 911.3,540.2"/><polygon points="563.0,543.0 564.9,541.2 570.7,541.2 572.6,543.0 572.6,545.6 570.7,547.4 564.9,547.4 563.0,545.6"/><polygon points="579.2,543.0 581.1,541.2 586.9,541.2 588.8,543.0 588.8,545.6 586.9,547.4 581.1,547.4 579.2,545.6"/><polygon points="595.4,543.0 597.3,541.2 603.1,541.2 605.0,543.0 605.0,545.6 603.1,547.4 597.3,547.4 595.4,545.6"/><polygon points="611.6,543.0 613.5,541.2 619.3,541.2 621.2,543.0 621.2,545.6 619.3,547.4 613.5,547.4 611.6,545.6"/><polygon points="627.8,543.0 629.7,541.2 635.5,541.2 637.4,543.0 637.4,545.6 635.5,547.4 629.7,547.4 627.8,545.6"/><polygon points="644.0,543.0 645.9,541.2 651.7,541.2 653.6,543.0 653.6,545.6 651.7,547.4 645.9,547.4 644.0,545.6"/><polygon points="660.2,543.0 662.1,541.2 667.9,541.2 669.8,543.0 669.8,545.6 667.9,547.4 662.1,547.4 660.2,545.6"/><polygon points="676.4,543.0 678.3,541.2 684.1,541.2 686.0,543.0 686.0,545.6 684.1,547.4 678.3,547.4 676.4,545.6"/><polygon points="692.6,543.0 694.5,541.2 700.3,541.2 702.2,543.0 702.2,545.6 700.3,547.4 694.5,547.4 692.6,545.6"/><polygon points="708.8,543.0 710.7,541.2 716.5,541.2 718.4,543.0 718.4,545.6 716.5,547.4 710.7,547.4 708.8,545.6"/><polygon points="725.0,543.0 726.9,541.2 732.7,541.2 734.6,543.0 734.6,545.6 732.7,547.4 726.9,547.4 725.0,545.6"/><polygon points="741.2,543.0 743.1,541.2 748.9,541.2 750.8,543.0 750.8,545.6 748.9,547.4 743.1,547.4 741.2,545.6"/><polygon points="757.4,543.0 759.3,541.2 765.1,541.2 767.0,543.0 767.0,545.6 765.1,547.4 759.3,547.4 757.4,545.6"/><polygon points="773.6,543.0 775.5,541.2 781.3,541.2 783.2,543.0 783.2,545.6 781.3,547.4 775.5,547.4 773.6,545.6"/><polygon points="789.8,543.0 791.7,541.2 797.5,541.2 799.4,543.0 799.4,545.6 797.5,547.4 791.7,547.4 789.8,545.6"/><polygon points="806.0,543.0 807.9,541.2 813.7,541.2 815.6,543.0 815.6,545.6 813.7,547.4 807.9,547.4 806.0,545.6"/><polygon points="822.2,543.0 824.1,541.2 829.9,541.2 831.8,543.0 831.8,545.6 829.9,547.4 824.1,547.4 822.2,545.6"/><polygon points="838.4,543.0 840.3,541.2 846.1,541.2 848.0,543.0 848.0,545.6 846.1,547.4 840.3,547.4 838.4,545.6"/><polygon points="854.6,543.0 856.5,541.2 862.3,541.2 864.2,543.0 864.2,545.6 862.3,547.4 856.5,547.4 854.6,545.6"/><polygon points="870.8,543.0 872.7,541.2 878.5,541.2 880.4,543.0 880.4,545.6 878.5,547.4 872.7,547.4 870.8,545.6"/><polygon points="887.0,543.0 888.9,541.2 894.7,541.2 896.6,543.0 896.6,545.6 894.7,547.4 888.9,547.4 887.0,545.6"/><polygon points="903.2,543.0 905.1,541.2 910.9,541.2 912.8,543.0 912.8,545.6 910.9,547.4 905.1,547.4 903.2,545.6"/><polygon points="571.1,548.4 573.0,546.6 578.8,546.6 580.7,548.4 580.7,551.0 578.8,552.8 573.0,552.8 571.1,551.0"/><polygon points="587.3,548.4 589.2,546.6 595.0,546.6 596.9,548.4 596.9,551.0 595.0,552.8 589.2,552.8 587.3,551.0"/><polygon points="603.5,548.4 605.4,546.6 611.2,546.6 613.1,548.4 613.1,551.0 611.2,552.8 605.4,552.8 603.5,551.0"/><polygon points="619.7,548.4 621.6,546.6 627.4,546.6 629.3,548.4 629.3,551.0 627.4,552.8 621.6,552.8 619.7,551.0"/><polygon points="635.9,548.4 637.8,546.6 643.6,546.6 645.5,548.4 645.5,551.0 643.6,552.8 637.8,552.8 635.9,551.0"/><polygon points="652.1,548.4 654.0,546.6 659.8,546.6 661.7,548.4 661.7,551.0 659.8,552.8 654.0,552.8 652.1,551.0"/><polygon points="668.3,548.4 670.2,546.6 676.0,546.6 677.9,548.4 677.9,551.0 676.0,552.8 670.2,552.8 668.3,551.0"/><polygon points="684.5,548.4 686.4,546.6 692.2,546.6 694.1,548.4 694.1,551.0 692.2,552.8 686.4,552.8 684.5,551.0"/><polygon points="700.7,548.4 702.6,546.6 708.4,546.6 710.3,548.4 710.3,551.0 708.4,552.8 702.6,552.8 700.7,551.0"/><polygon points="716.9,548.4 718.8,546.6 724.6,546.6 726.5,548.4 726.5,551.0 724.6,552.8 718.8,552.8 716.9,551.0"/><polygon points="733.1,548.4 735.0,546.6 740.8,546.6 742.7,548.4 742.7,551.0 740.8,552.8 735.0,552.8 733.1,551.0"/><polygon points="749.3,548.4 751.2,546.6 757.0,546.6 758.9,548.4 758.9,551.0 757.0,552.8 751.2,552.8 749.3,551.0"/><polygon points="765.5,548.4 767.4,546.6 773.2,546.6 775.1,548.4 775.1,551.0 773.2,552.8 767.4,552.8 765.5,551.0"/><polygon points="781.7,548.4 783.6,546.6 789.4,546.6 791.3,548.4 791.3,551.0 789.4,552.8 783.6,552.8 781.7,551.0"/><polygon points="797.9,548.4 799.8,546.6 805.6,546.6 807.5,548.4 807.5,551.0 805.6,552.8 799.8,552.8 797.9,551.0"/><polygon points="814.1,548.4 816.0,546.6 821.8,546.6 823.7,548.4 823.7,551.0 821.8,552.8 816.0,552.8 814.1,551.0"/><polygon points="830.3,548.4 832.2,546.6 838.0,546.6 839.9,548.4 839.9,551.0 838.0,552.8 832.2,552.8 830.3,551.0"/><polygon points="846.5,548.4 848.4,546.6 854.2,546.6 856.1,548.4 856.1,551.0 854.2,552.8 848.4,552.8 846.5,551.0"/><polygon points="862.7,548.4 864.6,546.6 870.4,546.6 872.3,548.4 872.3,551.0 870.4,552.8 864.6,552.8 862.7,551.0"/><polygon points="878.9,548.4 880.8,546.6 886.6,546.6 888.5,548.4 888.5,551.0 886.6,552.8 880.8,552.8 878.9,551.0"/><polygon points="895.1,548.4 897.0,546.6 902.8,546.6 904.7,548.4 904.7,551.0 902.8,552.8 897.0,552.8 895.1,551.0"/><polygon points="911.3,548.4 913.2,546.6 919.0,546.6 920.9,548.4 920.9,551.0 919.0,552.8 913.2,552.8 911.3,551.0"/><polygon points="563.0,553.8 564.9,552.0 570.7,552.0 572.6,553.8 572.6,556.4 570.7,558.2 564.9,558.2 563.0,556.4"/><polygon points="579.2,553.8 581.1,552.0 586.9,552.0 588.8,553.8 588.8,556.4 586.9,558.2 581.1,558.2 579.2,556.4"/><polygon points="595.4,553.8 597.3,552.0 603.1,552.0 605.0,553.8 605.0,556.4 603.1,558.2 597.3,558.2 595.4,556.4"/><polygon points="611.6,553.8 613.5,552.0 619.3,552.0 621.2,553.8 621.2,556.4 619.3,558.2 613.5,558.2 611.6,556.4"/><polygon points="627.8,553.8 629.7,552.0 635.5,552.0 637.4,553.8 637.4,556.4 635.5,558.2 629.7,558.2 627.8,556.4"/><polygon points="644.0,553.8 645.9,552.0 651.7,552.0 653.6,553.8 653.6,556.4 651.7,558.2 645.9,558.2 644.0,556.4"/><polygon points="660.2,553.8 662.1,552.0 667.9,552.0 669.8,553.8 669.8,556.4 667.9,558.2 662.1,558.2 660.2,556.4"/><polygon points="676.4,553.8 678.3,552.0 684.1,552.0 686.0,553.8 686.0,556.4 684.1,558.2 678.3,558.2 676.4,556.4"/><polygon points="692.6,553.8 694.5,552.0 700.3,552.0 702.2,553.8 702.2,556.4 700.3,558.2 694.5,558.2 692.6,556.4"/><polygon points="708.8,553.8 710.7,552.0 716.5,552.0 718.4,553.8 718.4,556.4 716.5,558.2 710.7,558.2 708.8,556.4"/><polygon points="725.0,553.8 726.9,552.0 732.7,552.0 734.6,553.8 734.6,556.4 732.7,558.2 726.9,558.2 725.0,556.4"/><polygon points="741.2,553.8 743.1,552.0 748.9,552.0 750.8,553.8 750.8,556.4 748.9,558.2 743.1,558.2 741.2,556.4"/><polygon points="757.4,553.8 759.3,552.0 765.1,552.0 767.0,553.8 767.0,556.4 765.1,558.2 759.3,558.2 757.4,556.4"/><polygon points="773.6,553.8 775.5,552.0 781.3,552.0 783.2,553.8 783.2,556.4 781.3,558.2 775.5,558.2 773.6,556.4"/><polygon points="789.8,553.8 791.7,552.0 797.5,552.0 799.4,553.8 799.4,556.4 797.5,558.2 791.7,558.2 789.8,556.4"/><polygon points="806.0,553.8 807.9,552.0 813.7,552.0 815.6,553.8 815.6,556.4 813.7,558.2 807.9,558.2 806.0,556.4"/><polygon points="822.2,553.8 824.1,552.0 829.9,552.0 831.8,553.8 831.8,556.4 829.9,558.2 824.1,558.2 822.2,556.4"/><polygon points="838.4,553.8 840.3,552.0 846.1,552.0 848.0,553.8 848.0,556.4 846.1,558.2 840.3,558.2 838.4,556.4"/><polygon points="854.6,553.8 856.5,552.0 862.3,552.0 864.2,553.8 864.2,556.4 862.3,558.2 856.5,558.2 854.6,556.4"/><polygon points="870.8,553.8 872.7,552.0 878.5,552.0 880.4,553.8 880.4,556.4 878.5,558.2 872.7,558.2 870.8,556.4"/><polygon points="887.0,553.8 888.9,552.0 894.7,552.0 896.6,553.8 896.6,556.4 894.7,558.2 888.9,558.2 887.0,556.4"/><polygon points="903.2,553.8 905.1,552.0 910.9,552.0 912.8,553.8 912.8,556.4 910.9,558.2 905.1,558.2 903.2,556.4"/><polygon points="571.1,559.1 573.0,557.3 578.8,557.3 580.7,559.1 580.7,561.7 578.8,563.5 573.0,563.5 571.1,561.7"/><polygon points="587.3,559.1 589.2,557.3 595.0,557.3 596.9,559.1 596.9,561.7 595.0,563.5 589.2,563.5 587.3,561.7"/><polygon points="603.5,559.1 605.4,557.3 611.2,557.3 613.1,559.1 613.1,561.7 611.2,563.5 605.4,563.5 603.5,561.7"/><polygon points="619.7,559.1 621.6,557.3 627.4,557.3 629.3,559.1 629.3,561.7 627.4,563.5 621.6,563.5 619.7,561.7"/><polygon points="635.9,559.1 637.8,557.3 643.6,557.3 645.5,559.1 645.5,561.7 643.6,563.5 637.8,563.5 635.9,561.7"/><polygon points="652.1,559.1 654.0,557.3 659.8,557.3 661.7,559.1 661.7,561.7 659.8,563.5 654.0,563.5 652.1,561.7"/><polygon points="668.3,559.1 670.2,557.3 676.0,557.3 677.9,559.1 677.9,561.7 676.0,563.5 670.2,563.5 668.3,561.7"/><polygon points="684.5,559.1 686.4,557.3 692.2,557.3 694.1,559.1 694.1,561.7 692.2,563.5 686.4,563.5 684.5,561.7"/><polygon points="700.7,559.1 702.6,557.3 708.4,557.3 710.3,559.1 710.3,561.7 708.4,563.5 702.6,563.5 700.7,561.7"/><polygon points="716.9,559.1 718.8,557.3 724.6,557.3 726.5,559.1 726.5,561.7 724.6,563.5 718.8,563.5 716.9,561.7"/><polygon points="733.1,559.1 735.0,557.3 740.8,557.3 742.7,559.1 742.7,561.7 740.8,563.5 735.0,563.5 733.1,561.7"/><polygon points="749.3,559.1 751.2,557.3 757.0,557.3 758.9,559.1 758.9,561.7 757.0,563.5 751.2,563.5 749.3,561.7"/><polygon points="765.5,559.1 767.4,557.3 773.2,557.3 775.1,559.1 775.1,561.7 773.2,563.5 767.4,563.5 765.5,561.7"/><polygon points="781.7,559.1 783.6,557.3 789.4,557.3 791.3,559.1 791.3,561.7 789.4,563.5 783.6,563.5 781.7,561.7"/><polygon points="797.9,559.1 799.8,557.3 805.6,557.3 807.5,559.1 807.5,561.7 805.6,563.5 799.8,563.5 797.9,561.7"/><polygon points="814.1,559.1 816.0,557.3 821.8,557.3 823.7,559.1 823.7,561.7 821.8,563.5 816.0,563.5 814.1,561.7"/><polygon points="830.3,559.1 832.2,557.3 838.0,557.3 839.9,559.1 839.9,561.7 838.0,563.5 832.2,563.5 830.3,561.7"/><polygon points="846.5,559.1 848.4,557.3 854.2,557.3 856.1,559.1 856.1,561.7 854.2,563.5 848.4,563.5 846.5,561.7"/><polygon points="862.7,559.1 864.6,557.3 870.4,557.3 872.3,559.1 872.3,561.7 870.4,563.5 864.6,563.5 862.7,561.7"/><polygon points="878.9,559.1 880.8,557.3 886.6,557.3 888.5,559.1 888.5,561.7 886.6,563.5 880.8,563.5 878.9,561.7"/><polygon points="895.1,559.1 897.0,557.3 902.8,557.3 904.7,559.1 904.7,561.7 902.8,563.5 897.0,563.5 895.1,561.7"/><polygon points="911.3,559.1 913.2,557.3 919.0,557.3 920.9,559.1 920.9,561.7 919.0,563.5 913.2,563.5 911.3,561.7"/><polygon points="563.0,564.5 564.9,562.7 570.7,562.7 572.6,564.5 572.6,567.1 570.7,568.9 564.9,568.9 563.0,567.1"/><polygon points="579.2,564.5 581.1,562.7 586.9,562.7 588.8,564.5 588.8,567.1 586.9,568.9 581.1,568.9 579.2,567.1"/><polygon points="595.4,564.5 597.3,562.7 603.1,562.7 605.0,564.5 605.0,567.1 603.1,568.9 597.3,568.9 595.4,567.1"/><polygon points="611.6,564.5 613.5,562.7 619.3,562.7 621.2,564.5 621.2,567.1 619.3,568.9 613.5,568.9 611.6,567.1"/><polygon points="627.8,564.5 629.7,562.7 635.5,562.7 637.4,564.5 637.4,567.1 635.5,568.9 629.7,568.9 627.8,567.1"/><polygon points="644.0,564.5 645.9,562.7 651.7,562.7 653.6,564.5 653.6,567.1 651.7,568.9 645.9,568.9 644.0,567.1"/><polygon points="660.2,564.5 662.1,562.7 667.9,562.7 669.8,564.5 669.8,567.1 667.9,568.9 662.1,568.9 660.2,567.1"/><polygon points="676.4,564.5 678.3,562.7 684.1,562.7 686.0,564.5 686.0,567.1 684.1,568.9 678.3,568.9 676.4,567.1"/><polygon points="692.6,564.5 694.5,562.7 700.3,562.7 702.2,564.5 702.2,567.1 700.3,568.9 694.5,568.9 692.6,567.1"/><polygon points="708.8,564.5 710.7,562.7 716.5,562.7 718.4,564.5 718.4,567.1 716.5,568.9 710.7,568.9 708.8,567.1"/><polygon points="725.0,564.5 726.9,562.7 732.7,562.7 734.6,564.5 734.6,567.1 732.7,568.9 726.9,568.9 725.0,567.1"/><polygon points="741.2,564.5 743.1,562.7 748.9,562.7 750.8,564.5 750.8,567.1 748.9,568.9 743.1,568.9 741.2,567.1"/><polygon points="757.4,564.5 759.3,562.7 765.1,562.7 767.0,564.5 767.0,567.1 765.1,568.9 759.3,568.9 757.4,567.1"/><polygon points="773.6,564.5 775.5,562.7 781.3,562.7 783.2,564.5 783.2,567.1 781.3,568.9 775.5,568.9 773.6,567.1"/><polygon points="789.8,564.5 791.7,562.7 797.5,562.7 799.4,564.5 799.4,567.1 797.5,568.9 791.7,568.9 789.8,567.1"/><polygon points="806.0,564.5 807.9,562.7 813.7,562.7 815.6,564.5 815.6,567.1 813.7,568.9 807.9,568.9 806.0,567.1"/><polygon points="822.2,564.5 824.1,562.7 829.9,562.7 831.8,564.5 831.8,567.1 829.9,568.9 824.1,568.9 822.2,567.1"/><polygon points="838.4,564.5 840.3,562.7 846.1,562.7 848.0,564.5 848.0,567.1 846.1,568.9 840.3,568.9 838.4,567.1"/><polygon points="854.6,564.5 856.5,562.7 862.3,562.7 864.2,564.5 864.2,567.1 862.3,568.9 856.5,568.9 854.6,567.1"/><polygon points="870.8,564.5 872.7,562.7 878.5,562.7 880.4,564.5 880.4,567.1 878.5,568.9 872.7,568.9 870.8,567.1"/><polygon points="887.0,564.5 888.9,562.7 894.7,562.7 896.6,564.5 896.6,567.1 894.7,568.9 888.9,568.9 887.0,567.1"/><polygon points="903.2,564.5 905.1,562.7 910.9,562.7 912.8,564.5 912.8,567.1 910.9,568.9 905.1,568.9 903.2,567.1"/><polygon points="571.1,569.9 573.0,568.1 578.8,568.1 580.7,569.9 580.7,572.5 578.8,574.3 573.0,574.3 571.1,572.5"/><polygon points="587.3,569.9 589.2,568.1 595.0,568.1 596.9,569.9 596.9,572.5 595.0,574.3 589.2,574.3 587.3,572.5"/><polygon points="603.5,569.9 605.4,568.1 611.2,568.1 613.1,569.9 613.1,572.5 611.2,574.3 605.4,574.3 603.5,572.5"/><polygon points="619.7,569.9 621.6,568.1 627.4,568.1 629.3,569.9 629.3,572.5 627.4,574.3 621.6,574.3 619.7,572.5"/><polygon points="635.9,569.9 637.8,568.1 643.6,568.1 645.5,569.9 645.5,572.5 643.6,574.3 637.8,574.3 635.9,572.5"/><polygon points="652.1,569.9 654.0,568.1 659.8,568.1 661.7,569.9 661.7,572.5 659.8,574.3 654.0,574.3 652.1,572.5"/><polygon points="668.3,569.9 670.2,568.1 676.0,568.1 677.9,569.9 677.9,572.5 676.0,574.3 670.2,574.3 668.3,572.5"/><polygon points="684.5,569.9 686.4,568.1 692.2,568.1 694.1,569.9 694.1,572.5 692.2,574.3 686.4,574.3 684.5,572.5"/><polygon points="700.7,569.9 702.6,568.1 708.4,568.1 710.3,569.9 710.3,572.5 708.4,574.3 702.6,574.3 700.7,572.5"/><polygon points="716.9,569.9 718.8,568.1 724.6,568.1 726.5,569.9 726.5,572.5 724.6,574.3 718.8,574.3 716.9,572.5"/><polygon points="733.1,569.9 735.0,568.1 740.8,568.1 742.7,569.9 742.7,572.5 740.8,574.3 735.0,574.3 733.1,572.5"/><polygon points="749.3,569.9 751.2,568.1 757.0,568.1 758.9,569.9 758.9,572.5 757.0,574.3 751.2,574.3 749.3,572.5"/><polygon points="765.5,569.9 767.4,568.1 773.2,568.1 775.1,569.9 775.1,572.5 773.2,574.3 767.4,574.3 765.5,572.5"/><polygon points="781.7,569.9 783.6,568.1 789.4,568.1 791.3,569.9 791.3,572.5 789.4,574.3 783.6,574.3 781.7,572.5"/><polygon points="797.9,569.9 799.8,568.1 805.6,568.1 807.5,569.9 807.5,572.5 805.6,574.3 799.8,574.3 797.9,572.5"/><polygon points="814.1,569.9 816.0,568.1 821.8,568.1 823.7,569.9 823.7,572.5 821.8,574.3 816.0,574.3 814.1,572.5"/><polygon points="830.3,569.9 832.2,568.1 838.0,568.1 839.9,569.9 839.9,572.5 838.0,574.3 832.2,574.3 830.3,572.5"/><polygon points="846.5,569.9 848.4,568.1 854.2,568.1 856.1,569.9 856.1,572.5 854.2,574.3 848.4,574.3 846.5,572.5"/><polygon points="862.7,569.9 864.6,568.1 870.4,568.1 872.3,569.9 872.3,572.5 870.4,574.3 864.6,574.3 862.7,572.5"/><polygon points="878.9,569.9 880.8,568.1 886.6,568.1 888.5,569.9 888.5,572.5 886.6,574.3 880.8,574.3 878.9,572.5"/><polygon points="895.1,569.9 897.0,568.1 902.8,568.1 904.7,569.9 904.7,572.5 902.8,574.3 897.0,574.3 895.1,572.5"/><polygon points="911.3,569.9 913.2,568.1 919.0,568.1 920.9,569.9 920.9,572.5 919.0,574.3 913.2,574.3 911.3,572.5"/><polygon points="563.0,575.3 564.9,573.5 570.7,573.5 572.6,575.3 572.6,577.9 570.7,579.7 564.9,579.7 563.0,577.9"/><polygon points="579.2,575.3 581.1,573.5 586.9,573.5 588.8,575.3 588.8,577.9 586.9,579.7 581.1,579.7 579.2,577.9"/><polygon points="595.4,575.3 597.3,573.5 603.1,573.5 605.0,575.3 605.0,577.9 603.1,579.7 597.3,579.7 595.4,577.9"/><polygon points="611.6,575.3 613.5,573.5 619.3,573.5 621.2,575.3 621.2,577.9 619.3,579.7 613.5,579.7 611.6,577.9"/><polygon points="627.8,575.3 629.7,573.5 635.5,573.5 637.4,575.3 637.4,577.9 635.5,579.7 629.7,579.7 627.8,577.9"/><polygon points="644.0,575.3 645.9,573.5 651.7,573.5 653.6,575.3 653.6,577.9 651.7,579.7 645.9,579.7 644.0,577.9"/><polygon points="660.2,575.3 662.1,573.5 667.9,573.5 669.8,575.3 669.8,577.9 667.9,579.7 662.1,579.7 660.2,577.9"/><polygon points="676.4,575.3 678.3,573.5 684.1,573.5 686.0,575.3 686.0,577.9 684.1,579.7 678.3,579.7 676.4,577.9"/><polygon points="692.6,575.3 694.5,573.5 700.3,573.5 702.2,575.3 702.2,577.9 700.3,579.7 694.5,579.7 692.6,577.9"/><polygon points="708.8,575.3 710.7,573.5 716.5,573.5 718.4,575.3 718.4,577.9 716.5,579.7 710.7,579.7 708.8,577.9"/><polygon points="725.0,575.3 726.9,573.5 732.7,573.5 734.6,575.3 734.6,577.9 732.7,579.7 726.9,579.7 725.0,577.9"/><polygon points="741.2,575.3 743.1,573.5 748.9,573.5 750.8,575.3 750.8,577.9 748.9,579.7 743.1,579.7 741.2,577.9"/><polygon points="757.4,575.3 759.3,573.5 765.1,573.5 767.0,575.3 767.0,577.9 765.1,579.7 759.3,579.7 757.4,577.9"/><polygon points="773.6,575.3 775.5,573.5 781.3,573.5 783.2,575.3 783.2,577.9 781.3,579.7 775.5,579.7 773.6,577.9"/><polygon points="789.8,575.3 791.7,573.5 797.5,573.5 799.4,575.3 799.4,577.9 797.5,579.7 791.7,579.7 789.8,577.9"/><polygon points="806.0,575.3 807.9,573.5 813.7,573.5 815.6,575.3 815.6,577.9 813.7,579.7 807.9,579.7 806.0,577.9"/><polygon points="822.2,575.3 824.1,573.5 829.9,573.5 831.8,575.3 831.8,577.9 829.9,579.7 824.1,579.7 822.2,577.9"/><polygon points="838.4,575.3 840.3,573.5 846.1,573.5 848.0,575.3 848.0,577.9 846.1,579.7 840.3,579.7 838.4,577.9"/><polygon points="854.6,575.3 856.5,573.5 862.3,573.5 864.2,575.3 864.2,577.9 862.3,579.7 856.5,579.7 854.6,577.9"/><polygon points="870.8,575.3 872.7,573.5 878.5,573.5 880.4,575.3 880.4,577.9 878.5,579.7 872.7,579.7 870.8,577.9"/><polygon points="887.0,575.3 888.9,573.5 894.7,573.5 896.6,575.3 896.6,577.9 894.7,579.7 888.9,579.7 887.0,577.9"/><polygon points="903.2,575.3 905.1,573.5 910.9,573.5 912.8,575.3 912.8,577.9 910.9,579.7 905.1,579.7 903.2,577.9"/><polygon points="571.1,580.7 573.0,578.9 578.8,578.9 580.7,580.7 580.7,583.3 578.8,585.1 573.0,585.1 571.1,583.3"/><polygon points="587.3,580.7 589.2,578.9 595.0,578.9 596.9,580.7 596.9,583.3 595.0,585.1 589.2,585.1 587.3,583.3"/><polygon points="603.5,580.7 605.4,578.9 611.2,578.9 613.1,580.7 613.1,583.3 611.2,585.1 605.4,585.1 603.5,583.3"/><polygon points="619.7,580.7 621.6,578.9 627.4,578.9 629.3,580.7 629.3,583.3 627.4,585.1 621.6,585.1 619.7,583.3"/><polygon points="635.9,580.7 637.8,578.9 643.6,578.9 645.5,580.7 645.5,583.3 643.6,585.1 637.8,585.1 635.9,583.3"/><polygon points="652.1,580.7 654.0,578.9 659.8,578.9 661.7,580.7 661.7,583.3 659.8,585.1 654.0,585.1 652.1,583.3"/><polygon points="668.3,580.7 670.2,578.9 676.0,578.9 677.9,580.7 677.9,583.3 676.0,585.1 670.2,585.1 668.3,583.3"/><polygon points="684.5,580.7 686.4,578.9 692.2,578.9 694.1,580.7 694.1,583.3 692.2,585.1 686.4,585.1 684.5,583.3"/><polygon points="700.7,580.7 702.6,578.9 708.4,578.9 710.3,580.7 710.3,583.3 708.4,585.1 702.6,585.1 700.7,583.3"/><polygon points="716.9,580.7 718.8,578.9 724.6,578.9 726.5,580.7 726.5,583.3 724.6,585.1 718.8,585.1 716.9,583.3"/><polygon points="733.1,580.7 735.0,578.9 740.8,578.9 742.7,580.7 742.7,583.3 740.8,585.1 735.0,585.1 733.1,583.3"/><polygon points="749.3,580.7 751.2,578.9 757.0,578.9 758.9,580.7 758.9,583.3 757.0,585.1 751.2,585.1 749.3,583.3"/><polygon points="765.5,580.7 767.4,578.9 773.2,578.9 775.1,580.7 775.1,583.3 773.2,585.1 767.4,585.1 765.5,583.3"/><polygon points="781.7,580.7 783.6,578.9 789.4,578.9 791.3,580.7 791.3,583.3 789.4,585.1 783.6,585.1 781.7,583.3"/><polygon points="797.9,580.7 799.8,578.9 805.6,578.9 807.5,580.7 807.5,583.3 805.6,585.1 799.8,585.1 797.9,583.3"/><polygon points="814.1,580.7 816.0,578.9 821.8,578.9 823.7,580.7 823.7,583.3 821.8,585.1 816.0,585.1 814.1,583.3"/><polygon points="830.3,580.7 832.2,578.9 838.0,578.9 839.9,580.7 839.9,583.3 838.0,585.1 832.2,585.1 830.3,583.3"/><polygon points="846.5,580.7 848.4,578.9 854.2,578.9 856.1,580.7 856.1,583.3 854.2,585.1 848.4,585.1 846.5,583.3"/><polygon points="862.7,580.7 864.6,578.9 870.4,578.9 872.3,580.7 872.3,583.3 870.4,585.1 864.6,585.1 862.7,583.3"/><polygon points="878.9,580.7 880.8,578.9 886.6,578.9 888.5,580.7 888.5,583.3 886.6,585.1 880.8,585.1 878.9,583.3"/><polygon points="895.1,580.7 897.0,578.9 902.8,578.9 904.7,580.7 904.7,583.3 902.8,585.1 897.0,585.1 895.1,583.3"/><polygon points="911.3,580.7 913.2,578.9 919.0,578.9 920.9,580.7 920.9,583.3 919.0,585.1 913.2,585.1 911.3,583.3"/><polygon points="563.0,586.0 564.9,584.2 570.7,584.2 572.6,586.0 572.6,588.6 570.7,590.4 564.9,590.4 563.0,588.6"/><polygon points="579.2,586.0 581.1,584.2 586.9,584.2 588.8,586.0 588.8,588.6 586.9,590.4 581.1,590.4 579.2,588.6"/><polygon points="595.4,586.0 597.3,584.2 603.1,584.2 605.0,586.0 605.0,588.6 603.1,590.4 597.3,590.4 595.4,588.6"/><polygon points="611.6,586.0 613.5,584.2 619.3,584.2 621.2,586.0 621.2,588.6 619.3,590.4 613.5,590.4 611.6,588.6"/><polygon points="627.8,586.0 629.7,584.2 635.5,584.2 637.4,586.0 637.4,588.6 635.5,590.4 629.7,590.4 627.8,588.6"/><polygon points="644.0,586.0 645.9,584.2 651.7,584.2 653.6,586.0 653.6,588.6 651.7,590.4 645.9,590.4 644.0,588.6"/><polygon points="660.2,586.0 662.1,584.2 667.9,584.2 669.8,586.0 669.8,588.6 667.9,590.4 662.1,590.4 660.2,588.6"/><polygon points="676.4,586.0 678.3,584.2 684.1,584.2 686.0,586.0 686.0,588.6 684.1,590.4 678.3,590.4 676.4,588.6"/><polygon points="692.6,586.0 694.5,584.2 700.3,584.2 702.2,586.0 702.2,588.6 700.3,590.4 694.5,590.4 692.6,588.6"/><polygon points="708.8,586.0 710.7,584.2 716.5,584.2 718.4,586.0 718.4,588.6 716.5,590.4 710.7,590.4 708.8,588.6"/><polygon points="725.0,586.0 726.9,584.2 732.7,584.2 734.6,586.0 734.6,588.6 732.7,590.4 726.9,590.4 725.0,588.6"/><polygon points="741.2,586.0 743.1,584.2 748.9,584.2 750.8,586.0 750.8,588.6 748.9,590.4 743.1,590.4 741.2,588.6"/><polygon points="757.4,586.0 759.3,584.2 765.1,584.2 767.0,586.0 767.0,588.6 765.1,590.4 759.3,590.4 757.4,588.6"/><polygon points="773.6,586.0 775.5,584.2 781.3,584.2 783.2,586.0 783.2,588.6 781.3,590.4 775.5,590.4 773.6,588.6"/><polygon points="789.8,586.0 791.7,584.2 797.5,584.2 799.4,586.0 799.4,588.6 797.5,590.4 791.7,590.4 789.8,588.6"/><polygon points="806.0,586.0 807.9,584.2 813.7,584.2 815.6,586.0 815.6,588.6 813.7,590.4 807.9,590.4 806.0,588.6"/><polygon points="822.2,586.0 824.1,584.2 829.9,584.2 831.8,586.0 831.8,588.6 829.9,590.4 824.1,590.4 822.2,588.6"/><polygon points="838.4,586.0 840.3,584.2 846.1,584.2 848.0,586.0 848.0,588.6 846.1,590.4 840.3,590.4 838.4,588.6"/><polygon points="854.6,586.0 856.5,584.2 862.3,584.2 864.2,586.0 864.2,588.6 862.3,590.4 856.5,590.4 854.6,588.6"/><polygon points="870.8,586.0 872.7,584.2 878.5,584.2 880.4,586.0 880.4,588.6 878.5,590.4 872.7,590.4 870.8,588.6"/><polygon points="887.0,586.0 888.9,584.2 894.7,584.2 896.6,586.0 896.6,588.6 894.7,590.4 888.9,590.4 887.0,588.6"/><polygon points="903.2,586.0 905.1,584.2 910.9,584.2 912.8,586.0 912.8,588.6 910.9,590.4 905.1,590.4 903.2,588.6"/><polygon points="571.1,591.4 573.0,589.6 578.8,589.6 580.7,591.4 580.7,594.0 578.8,595.8 573.0,595.8 571.1,594.0"/><polygon points="587.3,591.4 589.2,589.6 595.0,589.6 596.9,591.4 596.9,594.0 595.0,595.8 589.2,595.8 587.3,594.0"/><polygon points="603.5,591.4 605.4,589.6 611.2,589.6 613.1,591.4 613.1,594.0 611.2,595.8 605.4,595.8 603.5,594.0"/><polygon points="619.7,591.4 621.6,589.6 627.4,589.6 629.3,591.4 629.3,594.0 627.4,595.8 621.6,595.8 619.7,594.0"/><polygon points="635.9,591.4 637.8,589.6 643.6,589.6 645.5,591.4 645.5,594.0 643.6,595.8 637.8,595.8 635.9,594.0"/><polygon points="652.1,591.4 654.0,589.6 659.8,589.6 661.7,591.4 661.7,594.0 659.8,595.8 654.0,595.8 652.1,594.0"/><polygon points="668.3,591.4 670.2,589.6 676.0,589.6 677.9,591.4 677.9,594.0 676.0,595.8 670.2,595.8 668.3,594.0"/><polygon points="684.5,591.4 686.4,589.6 692.2,589.6 694.1,591.4 694.1,594.0 692.2,595.8 686.4,595.8 684.5,594.0"/><polygon points="700.7,591.4 702.6,589.6 708.4,589.6 710.3,591.4 710.3,594.0 708.4,595.8 702.6,595.8 700.7,594.0"/><polygon points="716.9,591.4 718.8,589.6 724.6,589.6 726.5,591.4 726.5,594.0 724.6,595.8 718.8,595.8 716.9,594.0"/><polygon points="733.1,591.4 735.0,589.6 740.8,589.6 742.7,591.4 742.7,594.0 740.8,595.8 735.0,595.8 733.1,594.0"/><polygon points="749.3,591.4 751.2,589.6 757.0,589.6 758.9,591.4 758.9,594.0 757.0,595.8 751.2,595.8 749.3,594.0"/><polygon points="765.5,591.4 767.4,589.6 773.2,589.6 775.1,591.4 775.1,594.0 773.2,595.8 767.4,595.8 765.5,594.0"/><polygon points="781.7,591.4 783.6,589.6 789.4,589.6 791.3,591.4 791.3,594.0 789.4,595.8 783.6,595.8 781.7,594.0"/><polygon points="797.9,591.4 799.8,589.6 805.6,589.6 807.5,591.4 807.5,594.0 805.6,595.8 799.8,595.8 797.9,594.0"/><polygon points="814.1,591.4 816.0,589.6 821.8,589.6 823.7,591.4 823.7,594.0 821.8,595.8 816.0,595.8 814.1,594.0"/><polygon points="830.3,591.4 832.2,589.6 838.0,589.6 839.9,591.4 839.9,594.0 838.0,595.8 832.2,595.8 830.3,594.0"/><polygon points="846.5,591.4 848.4,589.6 854.2,589.6 856.1,591.4 856.1,594.0 854.2,595.8 848.4,595.8 846.5,594.0"/><polygon points="862.7,591.4 864.6,589.6 870.4,589.6 872.3,591.4 872.3,594.0 870.4,595.8 864.6,595.8 862.7,594.0"/><polygon points="878.9,591.4 880.8,589.6 886.6,589.6 888.5,591.4 888.5,594.0 886.6,595.8 880.8,595.8 878.9,594.0"/><polygon points="895.1,591.4 897.0,589.6 902.8,589.6 904.7,591.4 904.7,594.0 902.8,595.8 897.0,595.8 895.1,594.0"/><polygon points="911.3,591.4 913.2,589.6 919.0,589.6 920.9,591.4 920.9,594.0 919.0,595.8 913.2,595.8 911.3,594.0"/><polygon points="563.0,596.8 564.9,595.0 570.7,595.0 572.6,596.8 572.6,599.4 570.7,601.2 564.9,601.2 563.0,599.4"/><polygon points="579.2,596.8 581.1,595.0 586.9,595.0 588.8,596.8 588.8,599.4 586.9,601.2 581.1,601.2 579.2,599.4"/><polygon points="595.4,596.8 597.3,595.0 603.1,595.0 605.0,596.8 605.0,599.4 603.1,601.2 597.3,601.2 595.4,599.4"/><polygon points="611.6,596.8 613.5,595.0 619.3,595.0 621.2,596.8 621.2,599.4 619.3,601.2 613.5,601.2 611.6,599.4"/><polygon points="627.8,596.8 629.7,595.0 635.5,595.0 637.4,596.8 637.4,599.4 635.5,601.2 629.7,601.2 627.8,599.4"/><polygon points="644.0,596.8 645.9,595.0 651.7,595.0 653.6,596.8 653.6,599.4 651.7,601.2 645.9,601.2 644.0,599.4"/><polygon points="660.2,596.8 662.1,595.0 667.9,595.0 669.8,596.8 669.8,599.4 667.9,601.2 662.1,601.2 660.2,599.4"/><polygon points="676.4,596.8 678.3,595.0 684.1,595.0 686.0,596.8 686.0,599.4 684.1,601.2 678.3,601.2 676.4,599.4"/><polygon points="692.6,596.8 694.5,595.0 700.3,595.0 702.2,596.8 702.2,599.4 700.3,601.2 694.5,601.2 692.6,599.4"/><polygon points="708.8,596.8 710.7,595.0 716.5,595.0 718.4,596.8 718.4,599.4 716.5,601.2 710.7,601.2 708.8,599.4"/><polygon points="725.0,596.8 726.9,595.0 732.7,595.0 734.6,596.8 734.6,599.4 732.7,601.2 726.9,601.2 725.0,599.4"/><polygon points="741.2,596.8 743.1,595.0 748.9,595.0 750.8,596.8 750.8,599.4 748.9,601.2 743.1,601.2 741.2,599.4"/><polygon points="757.4,596.8 759.3,595.0 765.1,595.0 767.0,596.8 767.0,599.4 765.1,601.2 759.3,601.2 757.4,599.4"/><polygon points="773.6,596.8 775.5,595.0 781.3,595.0 783.2,596.8 783.2,599.4 781.3,601.2 775.5,601.2 773.6,599.4"/><polygon points="789.8,596.8 791.7,595.0 797.5,595.0 799.4,596.8 799.4,599.4 797.5,601.2 791.7,601.2 789.8,599.4"/><polygon points="806.0,596.8 807.9,595.0 813.7,595.0 815.6,596.8 815.6,599.4 813.7,601.2 807.9,601.2 806.0,599.4"/><polygon points="822.2,596.8 824.1,595.0 829.9,595.0 831.8,596.8 831.8,599.4 829.9,601.2 824.1,601.2 822.2,599.4"/><polygon points="838.4,596.8 840.3,595.0 846.1,595.0 848.0,596.8 848.0,599.4 846.1,601.2 840.3,601.2 838.4,599.4"/><polygon points="854.6,596.8 856.5,595.0 862.3,595.0 864.2,596.8 864.2,599.4 862.3,601.2 856.5,601.2 854.6,599.4"/><polygon points="870.8,596.8 872.7,595.0 878.5,595.0 880.4,596.8 880.4,599.4 878.5,601.2 872.7,601.2 870.8,599.4"/><polygon points="887.0,596.8 888.9,595.0 894.7,595.0 896.6,596.8 896.6,599.4 894.7,601.2 888.9,601.2 887.0,599.4"/><polygon points="903.2,596.8 905.1,595.0 910.9,595.0 912.8,596.8 912.8,599.4 910.9,601.2 905.1,601.2 903.2,599.4"/><polygon points="571.1,602.2 573.0,600.4 578.8,600.4 580.7,602.2 580.7,604.8 578.8,606.6 573.0,606.6 571.1,604.8"/><polygon points="587.3,602.2 589.2,600.4 595.0,600.4 596.9,602.2 596.9,604.8 595.0,606.6 589.2,606.6 587.3,604.8"/><polygon points="603.5,602.2 605.4,600.4 611.2,600.4 613.1,602.2 613.1,604.8 611.2,606.6 605.4,606.6 603.5,604.8"/><polygon points="619.7,602.2 621.6,600.4 627.4,600.4 629.3,602.2 629.3,604.8 627.4,606.6 621.6,606.6 619.7,604.8"/><polygon points="635.9,602.2 637.8,600.4 643.6,600.4 645.5,602.2 645.5,604.8 643.6,606.6 637.8,606.6 635.9,604.8"/><polygon points="652.1,602.2 654.0,600.4 659.8,600.4 661.7,602.2 661.7,604.8 659.8,606.6 654.0,606.6 652.1,604.8"/><polygon points="668.3,602.2 670.2,600.4 676.0,600.4 677.9,602.2 677.9,604.8 676.0,606.6 670.2,606.6 668.3,604.8"/><polygon points="684.5,602.2 686.4,600.4 692.2,600.4 694.1,602.2 694.1,604.8 692.2,606.6 686.4,606.6 684.5,604.8"/><polygon points="700.7,602.2 702.6,600.4 708.4,600.4 710.3,602.2 710.3,604.8 708.4,606.6 702.6,606.6 700.7,604.8"/><polygon points="716.9,602.2 718.8,600.4 724.6,600.4 726.5,602.2 726.5,604.8 724.6,606.6 718.8,606.6 716.9,604.8"/><polygon points="733.1,602.2 735.0,600.4 740.8,600.4 742.7,602.2 742.7,604.8 740.8,606.6 735.0,606.6 733.1,604.8"/><polygon points="749.3,602.2 751.2,600.4 757.0,600.4 758.9,602.2 758.9,604.8 757.0,606.6 751.2,606.6 749.3,604.8"/><polygon points="765.5,602.2 767.4,600.4 773.2,600.4 775.1,602.2 775.1,604.8 773.2,606.6 767.4,606.6 765.5,604.8"/><polygon points="781.7,602.2 783.6,600.4 789.4,600.4 791.3,602.2 791.3,604.8 789.4,606.6 783.6,606.6 781.7,604.8"/><polygon points="797.9,602.2 799.8,600.4 805.6,600.4 807.5,602.2 807.5,604.8 805.6,606.6 799.8,606.6 797.9,604.8"/><polygon points="814.1,602.2 816.0,600.4 821.8,600.4 823.7,602.2 823.7,604.8 821.8,606.6 816.0,606.6 814.1,604.8"/><polygon points="830.3,602.2 832.2,600.4 838.0,600.4 839.9,602.2 839.9,604.8 838.0,606.6 832.2,606.6 830.3,604.8"/><polygon points="846.5,602.2 848.4,600.4 854.2,600.4 856.1,602.2 856.1,604.8 854.2,606.6 848.4,606.6 846.5,604.8"/><polygon points="862.7,602.2 864.6,600.4 870.4,600.4 872.3,602.2 872.3,604.8 870.4,606.6 864.6,606.6 862.7,604.8"/><polygon points="878.9,602.2 880.8,600.4 886.6,600.4 888.5,602.2 888.5,604.8 886.6,606.6 880.8,606.6 878.9,604.8"/><polygon points="895.1,602.2 897.0,600.4 902.8,600.4 904.7,602.2 904.7,604.8 902.8,606.6 897.0,606.6 895.1,604.8"/><polygon points="911.3,602.2 913.2,600.4 919.0,600.4 920.9,602.2 920.9,604.8 919.0,606.6 913.2,606.6 911.3,604.8"/></g>
<path d="M572.7 515.8h6.4M572.7 518.0h6.4M573.4 519.8h5M588.9 515.8h6.4M588.9 518.0h6.4M589.6 519.8h5M605.1 515.8h6.4M605.1 518.0h6.4M605.8 519.8h5M621.3 515.8h6.4M621.3 518.0h6.4M622.0 519.8h5M637.5 515.8h6.4M637.5 518.0h6.4M638.2 519.8h5M653.7 515.8h6.4M653.7 518.0h6.4M654.4 519.8h5M669.9 515.8h6.4M669.9 518.0h6.4M670.6 519.8h5M686.1 515.8h6.4M686.1 518.0h6.4M686.8 519.8h5M702.3 515.8h6.4M702.3 518.0h6.4M703.0 519.8h5M718.5 515.8h6.4M718.5 518.0h6.4M719.2 519.8h5M734.7 515.8h6.4M734.7 518.0h6.4M735.4 519.8h5M750.9 515.8h6.4M750.9 518.0h6.4M751.6 519.8h5M767.1 515.8h6.4M767.1 518.0h6.4M767.8 519.8h5M783.3 515.8h6.4M783.3 518.0h6.4M784.0 519.8h5M799.5 515.8h6.4M799.5 518.0h6.4M800.2 519.8h5M815.7 515.8h6.4M815.7 518.0h6.4M816.4 519.8h5M831.9 515.8h6.4M831.9 518.0h6.4M832.6 519.8h5M848.1 515.8h6.4M848.1 518.0h6.4M848.8 519.8h5M864.3 515.8h6.4M864.3 518.0h6.4M865.0 519.8h5M880.5 515.8h6.4M880.5 518.0h6.4M881.2 519.8h5M896.7 515.8h6.4M896.7 518.0h6.4M897.4 519.8h5M912.9 515.8h6.4M912.9 518.0h6.4M913.6 519.8h5M564.6 521.2h6.4M564.6 523.4h6.4M580.8 521.2h6.4M580.8 523.4h6.4M597.0 521.2h6.4M597.0 523.4h6.4M613.2 521.2h6.4M613.2 523.4h6.4M629.4 521.2h6.4M629.4 523.4h6.4M645.6 521.2h6.4M645.6 523.4h6.4M661.8 521.2h6.4M661.8 523.4h6.4M678.0 521.2h6.4M678.0 523.4h6.4M694.2 521.2h6.4M694.2 523.4h6.4M710.4 521.2h6.4M710.4 523.4h6.4M726.6 521.2h6.4M726.6 523.4h6.4M742.8 521.2h6.4M742.8 523.4h6.4M759.0 521.2h6.4M759.0 523.4h6.4M775.2 521.2h6.4M775.2 523.4h6.4M791.4 521.2h6.4M791.4 523.4h6.4M807.6 521.2h6.4M807.6 523.4h6.4M823.8 521.2h6.4M823.8 523.4h6.4M840.0 521.2h6.4M840.0 523.4h6.4M856.2 521.2h6.4M856.2 523.4h6.4M872.4 521.2h6.4M872.4 523.4h6.4M888.6 521.2h6.4M888.6 523.4h6.4M904.8 521.2h6.4M904.8 523.4h6.4M572.7 526.6h6.4M572.7 528.8h6.4M588.9 526.6h6.4M588.9 528.8h6.4M605.1 526.6h6.4M605.1 528.8h6.4M621.3 526.6h6.4M621.3 528.8h6.4M637.5 526.6h6.4M637.5 528.8h6.4M653.7 526.6h6.4M653.7 528.8h6.4M669.9 526.6h6.4M669.9 528.8h6.4M686.1 526.6h6.4M686.1 528.8h6.4M702.3 526.6h6.4M702.3 528.8h6.4M718.5 526.6h6.4M718.5 528.8h6.4M734.7 526.6h6.4M734.7 528.8h6.4M750.9 526.6h6.4M750.9 528.8h6.4M767.1 526.6h6.4M767.1 528.8h6.4M783.3 526.6h6.4M783.3 528.8h6.4M799.5 526.6h6.4M799.5 528.8h6.4M815.7 526.6h6.4M815.7 528.8h6.4M831.9 526.6h6.4M831.9 528.8h6.4M848.1 526.6h6.4M848.1 528.8h6.4M864.3 526.6h6.4M864.3 528.8h6.4M880.5 526.6h6.4M880.5 528.8h6.4M896.7 526.6h6.4M896.7 528.8h6.4M912.9 526.6h6.4M912.9 528.8h6.4M564.6 531.9h6.4M564.6 534.1h6.4M565.3 535.9h5M580.8 531.9h6.4M580.8 534.1h6.4M581.5 535.9h5M597.0 531.9h6.4M597.0 534.1h6.4M597.7 535.9h5M613.2 531.9h6.4M613.2 534.1h6.4M613.9 535.9h5M629.4 531.9h6.4M629.4 534.1h6.4M630.1 535.9h5M645.6 531.9h6.4M645.6 534.1h6.4M646.3 535.9h5M661.8 531.9h6.4M661.8 534.1h6.4M662.5 535.9h5M678.0 531.9h6.4M678.0 534.1h6.4M678.7 535.9h5M694.2 531.9h6.4M694.2 534.1h6.4M694.9 535.9h5M710.4 531.9h6.4M710.4 534.1h6.4M711.1 535.9h5M726.6 531.9h6.4M726.6 534.1h6.4M727.3 535.9h5M742.8 531.9h6.4M742.8 534.1h6.4M743.5 535.9h5M759.0 531.9h6.4M759.0 534.1h6.4M759.7 535.9h5M775.2 531.9h6.4M775.2 534.1h6.4M775.9 535.9h5M791.4 531.9h6.4M791.4 534.1h6.4M792.1 535.9h5M807.6 531.9h6.4M807.6 534.1h6.4M808.3 535.9h5M823.8 531.9h6.4M823.8 534.1h6.4M824.5 535.9h5M840.0 531.9h6.4M840.0 534.1h6.4M840.7 535.9h5M856.2 531.9h6.4M856.2 534.1h6.4M856.9 535.9h5M872.4 531.9h6.4M872.4 534.1h6.4M873.1 535.9h5M888.6 531.9h6.4M888.6 534.1h6.4M889.3 535.9h5M904.8 531.9h6.4M904.8 534.1h6.4M905.5 535.9h5M572.7 537.3h6.4M572.7 539.5h6.4M588.9 537.3h6.4M588.9 539.5h6.4M605.1 537.3h6.4M605.1 539.5h6.4M621.3 537.3h6.4M621.3 539.5h6.4M637.5 537.3h6.4M637.5 539.5h6.4M653.7 537.3h6.4M653.7 539.5h6.4M669.9 537.3h6.4M669.9 539.5h6.4M686.1 537.3h6.4M686.1 539.5h6.4M702.3 537.3h6.4M702.3 539.5h6.4M718.5 537.3h6.4M718.5 539.5h6.4M734.7 537.3h6.4M734.7 539.5h6.4M750.9 537.3h6.4M750.9 539.5h6.4M767.1 537.3h6.4M767.1 539.5h6.4M783.3 537.3h6.4M783.3 539.5h6.4M799.5 537.3h6.4M799.5 539.5h6.4M815.7 537.3h6.4M815.7 539.5h6.4M831.9 537.3h6.4M831.9 539.5h6.4M848.1 537.3h6.4M848.1 539.5h6.4M864.3 537.3h6.4M864.3 539.5h6.4M880.5 537.3h6.4M880.5 539.5h6.4M896.7 537.3h6.4M896.7 539.5h6.4M912.9 537.3h6.4M912.9 539.5h6.4M564.6 542.7h6.4M564.6 544.9h6.4M580.8 542.7h6.4M580.8 544.9h6.4M597.0 542.7h6.4M597.0 544.9h6.4M613.2 542.7h6.4M613.2 544.9h6.4M629.4 542.7h6.4M629.4 544.9h6.4M645.6 542.7h6.4M645.6 544.9h6.4M661.8 542.7h6.4M661.8 544.9h6.4M678.0 542.7h6.4M678.0 544.9h6.4M694.2 542.7h6.4M694.2 544.9h6.4M710.4 542.7h6.4M710.4 544.9h6.4M726.6 542.7h6.4M726.6 544.9h6.4M742.8 542.7h6.4M742.8 544.9h6.4M759.0 542.7h6.4M759.0 544.9h6.4M775.2 542.7h6.4M775.2 544.9h6.4M791.4 542.7h6.4M791.4 544.9h6.4M807.6 542.7h6.4M807.6 544.9h6.4M823.8 542.7h6.4M823.8 544.9h6.4M840.0 542.7h6.4M840.0 544.9h6.4M856.2 542.7h6.4M856.2 544.9h6.4M872.4 542.7h6.4M872.4 544.9h6.4M888.6 542.7h6.4M888.6 544.9h6.4M904.8 542.7h6.4M904.8 544.9h6.4M572.7 548.1h6.4M572.7 550.3h6.4M573.4 552.1h5M588.9 548.1h6.4M588.9 550.3h6.4M589.6 552.1h5M605.1 548.1h6.4M605.1 550.3h6.4M605.8 552.1h5M621.3 548.1h6.4M621.3 550.3h6.4M622.0 552.1h5M637.5 548.1h6.4M637.5 550.3h6.4M638.2 552.1h5M653.7 548.1h6.4M653.7 550.3h6.4M654.4 552.1h5M669.9 548.1h6.4M669.9 550.3h6.4M670.6 552.1h5M686.1 548.1h6.4M686.1 550.3h6.4M686.8 552.1h5M702.3 548.1h6.4M702.3 550.3h6.4M703.0 552.1h5M718.5 548.1h6.4M718.5 550.3h6.4M719.2 552.1h5M734.7 548.1h6.4M734.7 550.3h6.4M735.4 552.1h5M750.9 548.1h6.4M750.9 550.3h6.4M751.6 552.1h5M767.1 548.1h6.4M767.1 550.3h6.4M767.8 552.1h5M783.3 548.1h6.4M783.3 550.3h6.4M784.0 552.1h5M799.5 548.1h6.4M799.5 550.3h6.4M800.2 552.1h5M815.7 548.1h6.4M815.7 550.3h6.4M816.4 552.1h5M831.9 548.1h6.4M831.9 550.3h6.4M832.6 552.1h5M848.1 548.1h6.4M848.1 550.3h6.4M848.8 552.1h5M864.3 548.1h6.4M864.3 550.3h6.4M865.0 552.1h5M880.5 548.1h6.4M880.5 550.3h6.4M881.2 552.1h5M896.7 548.1h6.4M896.7 550.3h6.4M897.4 552.1h5M912.9 548.1h6.4M912.9 550.3h6.4M913.6 552.1h5M564.6 553.5h6.4M564.6 555.7h6.4M580.8 553.5h6.4M580.8 555.7h6.4M597.0 553.5h6.4M597.0 555.7h6.4M613.2 553.5h6.4M613.2 555.7h6.4M629.4 553.5h6.4M629.4 555.7h6.4M645.6 553.5h6.4M645.6 555.7h6.4M661.8 553.5h6.4M661.8 555.7h6.4M678.0 553.5h6.4M678.0 555.7h6.4M694.2 553.5h6.4M694.2 555.7h6.4M710.4 553.5h6.4M710.4 555.7h6.4M726.6 553.5h6.4M726.6 555.7h6.4M742.8 553.5h6.4M742.8 555.7h6.4M759.0 553.5h6.4M759.0 555.7h6.4M775.2 553.5h6.4M775.2 555.7h6.4M791.4 553.5h6.4M791.4 555.7h6.4M807.6 553.5h6.4M807.6 555.7h6.4M823.8 553.5h6.4M823.8 555.7h6.4M840.0 553.5h6.4M840.0 555.7h6.4M856.2 553.5h6.4M856.2 555.7h6.4M872.4 553.5h6.4M872.4 555.7h6.4M888.6 553.5h6.4M888.6 555.7h6.4M904.8 553.5h6.4M904.8 555.7h6.4M572.7 558.8h6.4M572.7 561.0h6.4M588.9 558.8h6.4M588.9 561.0h6.4M605.1 558.8h6.4M605.1 561.0h6.4M621.3 558.8h6.4M621.3 561.0h6.4M637.5 558.8h6.4M637.5 561.0h6.4M653.7 558.8h6.4M653.7 561.0h6.4M669.9 558.8h6.4M669.9 561.0h6.4M686.1 558.8h6.4M686.1 561.0h6.4M702.3 558.8h6.4M702.3 561.0h6.4M718.5 558.8h6.4M718.5 561.0h6.4M734.7 558.8h6.4M734.7 561.0h6.4M750.9 558.8h6.4M750.9 561.0h6.4M767.1 558.8h6.4M767.1 561.0h6.4M783.3 558.8h6.4M783.3 561.0h6.4M799.5 558.8h6.4M799.5 561.0h6.4M815.7 558.8h6.4M815.7 561.0h6.4M831.9 558.8h6.4M831.9 561.0h6.4M848.1 558.8h6.4M848.1 561.0h6.4M864.3 558.8h6.4M864.3 561.0h6.4M880.5 558.8h6.4M880.5 561.0h6.4M896.7 558.8h6.4M896.7 561.0h6.4M912.9 558.8h6.4M912.9 561.0h6.4M564.6 564.2h6.4M564.6 566.4h6.4M565.3 568.2h5M580.8 564.2h6.4M580.8 566.4h6.4M581.5 568.2h5M597.0 564.2h6.4M597.0 566.4h6.4M597.7 568.2h5M613.2 564.2h6.4M613.2 566.4h6.4M613.9 568.2h5M629.4 564.2h6.4M629.4 566.4h6.4M630.1 568.2h5M645.6 564.2h6.4M645.6 566.4h6.4M646.3 568.2h5M661.8 564.2h6.4M661.8 566.4h6.4M662.5 568.2h5M678.0 564.2h6.4M678.0 566.4h6.4M678.7 568.2h5M694.2 564.2h6.4M694.2 566.4h6.4M694.9 568.2h5M710.4 564.2h6.4M710.4 566.4h6.4M711.1 568.2h5M726.6 564.2h6.4M726.6 566.4h6.4M727.3 568.2h5M742.8 564.2h6.4M742.8 566.4h6.4M743.5 568.2h5M759.0 564.2h6.4M759.0 566.4h6.4M759.7 568.2h5M775.2 564.2h6.4M775.2 566.4h6.4M775.9 568.2h5M791.4 564.2h6.4M791.4 566.4h6.4M792.1 568.2h5M807.6 564.2h6.4M807.6 566.4h6.4M808.3 568.2h5M823.8 564.2h6.4M823.8 566.4h6.4M824.5 568.2h5M840.0 564.2h6.4M840.0 566.4h6.4M840.7 568.2h5M856.2 564.2h6.4M856.2 566.4h6.4M856.9 568.2h5M872.4 564.2h6.4M872.4 566.4h6.4M873.1 568.2h5M888.6 564.2h6.4M888.6 566.4h6.4M889.3 568.2h5M904.8 564.2h6.4M904.8 566.4h6.4M905.5 568.2h5M572.7 569.6h6.4M572.7 571.8h6.4M588.9 569.6h6.4M588.9 571.8h6.4M605.1 569.6h6.4M605.1 571.8h6.4M621.3 569.6h6.4M621.3 571.8h6.4M637.5 569.6h6.4M637.5 571.8h6.4M653.7 569.6h6.4M653.7 571.8h6.4M669.9 569.6h6.4M669.9 571.8h6.4M686.1 569.6h6.4M686.1 571.8h6.4M702.3 569.6h6.4M702.3 571.8h6.4M718.5 569.6h6.4M718.5 571.8h6.4M734.7 569.6h6.4M734.7 571.8h6.4M750.9 569.6h6.4M750.9 571.8h6.4M767.1 569.6h6.4M767.1 571.8h6.4M783.3 569.6h6.4M783.3 571.8h6.4M799.5 569.6h6.4M799.5 571.8h6.4M815.7 569.6h6.4M815.7 571.8h6.4M831.9 569.6h6.4M831.9 571.8h6.4M848.1 569.6h6.4M848.1 571.8h6.4M864.3 569.6h6.4M864.3 571.8h6.4M880.5 569.6h6.4M880.5 571.8h6.4M896.7 569.6h6.4M896.7 571.8h6.4M912.9 569.6h6.4M912.9 571.8h6.4M564.6 575.0h6.4M564.6 577.2h6.4M580.8 575.0h6.4M580.8 577.2h6.4M597.0 575.0h6.4M597.0 577.2h6.4M613.2 575.0h6.4M613.2 577.2h6.4M629.4 575.0h6.4M629.4 577.2h6.4M645.6 575.0h6.4M645.6 577.2h6.4M661.8 575.0h6.4M661.8 577.2h6.4M678.0 575.0h6.4M678.0 577.2h6.4M694.2 575.0h6.4M694.2 577.2h6.4M710.4 575.0h6.4M710.4 577.2h6.4M726.6 575.0h6.4M726.6 577.2h6.4M742.8 575.0h6.4M742.8 577.2h6.4M759.0 575.0h6.4M759.0 577.2h6.4M775.2 575.0h6.4M775.2 577.2h6.4M791.4 575.0h6.4M791.4 577.2h6.4M807.6 575.0h6.4M807.6 577.2h6.4M823.8 575.0h6.4M823.8 577.2h6.4M840.0 575.0h6.4M840.0 577.2h6.4M856.2 575.0h6.4M856.2 577.2h6.4M872.4 575.0h6.4M872.4 577.2h6.4M888.6 575.0h6.4M888.6 577.2h6.4M904.8 575.0h6.4M904.8 577.2h6.4M572.7 580.4h6.4M572.7 582.6h6.4M573.4 584.4h5M588.9 580.4h6.4M588.9 582.6h6.4M589.6 584.4h5M605.1 580.4h6.4M605.1 582.6h6.4M605.8 584.4h5M621.3 580.4h6.4M621.3 582.6h6.4M622.0 584.4h5M637.5 580.4h6.4M637.5 582.6h6.4M638.2 584.4h5M653.7 580.4h6.4M653.7 582.6h6.4M654.4 584.4h5M669.9 580.4h6.4M669.9 582.6h6.4M670.6 584.4h5M686.1 580.4h6.4M686.1 582.6h6.4M686.8 584.4h5M702.3 580.4h6.4M702.3 582.6h6.4M703.0 584.4h5M718.5 580.4h6.4M718.5 582.6h6.4M719.2 584.4h5M734.7 580.4h6.4M734.7 582.6h6.4M735.4 584.4h5M750.9 580.4h6.4M750.9 582.6h6.4M751.6 584.4h5M767.1 580.4h6.4M767.1 582.6h6.4M767.8 584.4h5M783.3 580.4h6.4M783.3 582.6h6.4M784.0 584.4h5M799.5 580.4h6.4M799.5 582.6h6.4M800.2 584.4h5M815.7 580.4h6.4M815.7 582.6h6.4M816.4 584.4h5M831.9 580.4h6.4M831.9 582.6h6.4M832.6 584.4h5M848.1 580.4h6.4M848.1 582.6h6.4M848.8 584.4h5M864.3 580.4h6.4M864.3 582.6h6.4M865.0 584.4h5M880.5 580.4h6.4M880.5 582.6h6.4M881.2 584.4h5M896.7 580.4h6.4M896.7 582.6h6.4M897.4 584.4h5M912.9 580.4h6.4M912.9 582.6h6.4M913.6 584.4h5M564.6 585.7h6.4M564.6 587.9h6.4M580.8 585.7h6.4M580.8 587.9h6.4M597.0 585.7h6.4M597.0 587.9h6.4M613.2 585.7h6.4M613.2 587.9h6.4M629.4 585.7h6.4M629.4 587.9h6.4M645.6 585.7h6.4M645.6 587.9h6.4M661.8 585.7h6.4M661.8 587.9h6.4M678.0 585.7h6.4M678.0 587.9h6.4M694.2 585.7h6.4M694.2 587.9h6.4M710.4 585.7h6.4M710.4 587.9h6.4M726.6 585.7h6.4M726.6 587.9h6.4M742.8 585.7h6.4M742.8 587.9h6.4M759.0 585.7h6.4M759.0 587.9h6.4M775.2 585.7h6.4M775.2 587.9h6.4M791.4 585.7h6.4M791.4 587.9h6.4M807.6 585.7h6.4M807.6 587.9h6.4M823.8 585.7h6.4M823.8 587.9h6.4M840.0 585.7h6.4M840.0 587.9h6.4M856.2 585.7h6.4M856.2 587.9h6.4M872.4 585.7h6.4M872.4 587.9h6.4M888.6 585.7h6.4M888.6 587.9h6.4M904.8 585.7h6.4M904.8 587.9h6.4M572.7 591.1h6.4M572.7 593.3h6.4M588.9 591.1h6.4M588.9 593.3h6.4M605.1 591.1h6.4M605.1 593.3h6.4M621.3 591.1h6.4M621.3 593.3h6.4M637.5 591.1h6.4M637.5 593.3h6.4M653.7 591.1h6.4M653.7 593.3h6.4M669.9 591.1h6.4M669.9 593.3h6.4M686.1 591.1h6.4M686.1 593.3h6.4M702.3 591.1h6.4M702.3 593.3h6.4M718.5 591.1h6.4M718.5 593.3h6.4M734.7 591.1h6.4M734.7 593.3h6.4M750.9 591.1h6.4M750.9 593.3h6.4M767.1 591.1h6.4M767.1 593.3h6.4M783.3 591.1h6.4M783.3 593.3h6.4M799.5 591.1h6.4M799.5 593.3h6.4M815.7 591.1h6.4M815.7 593.3h6.4M831.9 591.1h6.4M831.9 593.3h6.4M848.1 591.1h6.4M848.1 593.3h6.4M864.3 591.1h6.4M864.3 593.3h6.4M880.5 591.1h6.4M880.5 593.3h6.4M896.7 591.1h6.4M896.7 593.3h6.4M912.9 591.1h6.4M912.9 593.3h6.4M564.6 596.5h6.4M564.6 598.7h6.4M565.3 600.5h5M580.8 596.5h6.4M580.8 598.7h6.4M581.5 600.5h5M597.0 596.5h6.4M597.0 598.7h6.4M597.7 600.5h5M613.2 596.5h6.4M613.2 598.7h6.4M613.9 600.5h5M629.4 596.5h6.4M629.4 598.7h6.4M630.1 600.5h5M645.6 596.5h6.4M645.6 598.7h6.4M646.3 600.5h5M661.8 596.5h6.4M661.8 598.7h6.4M662.5 600.5h5M678.0 596.5h6.4M678.0 598.7h6.4M678.7 600.5h5M694.2 596.5h6.4M694.2 598.7h6.4M694.9 600.5h5M710.4 596.5h6.4M710.4 598.7h6.4M711.1 600.5h5M726.6 596.5h6.4M726.6 598.7h6.4M727.3 600.5h5M742.8 596.5h6.4M742.8 598.7h6.4M743.5 600.5h5M759.0 596.5h6.4M759.0 598.7h6.4M759.7 600.5h5M775.2 596.5h6.4M775.2 598.7h6.4M775.9 600.5h5M791.4 596.5h6.4M791.4 598.7h6.4M792.1 600.5h5M807.6 596.5h6.4M807.6 598.7h6.4M808.3 600.5h5M823.8 596.5h6.4M823.8 598.7h6.4M824.5 600.5h5M840.0 596.5h6.4M840.0 598.7h6.4M840.7 600.5h5M856.2 596.5h6.4M856.2 598.7h6.4M856.9 600.5h5M872.4 596.5h6.4M872.4 598.7h6.4M873.1 600.5h5M888.6 596.5h6.4M888.6 598.7h6.4M889.3 600.5h5M904.8 596.5h6.4M904.8 598.7h6.4M905.5 600.5h5" stroke="#e9b934" stroke-width="1"/>
<rect x="566.3" y="606.7" width="352.8" height="5.1" fill="#000"/>
<rect x="566.3" y="611.8" width="352.8" height="28.5" fill="#e4aa1e"/>
<rect x="566.3" y="640.3" width="352.8" height="2.7" fill="#c8b070"/>
<path d="M566.3 640.3v2.7M608.3 640.3v2.7M650.3 640.3v2.7M692.3 640.3v2.7M734.3 640.3v2.7M776.3 640.3v2.7M818.3 640.3v2.7M860.3 640.3v2.7M902.3 640.3v2.7 M566.3 643 H919" stroke="#000" stroke-width="0.7"/>
<path d="M910 469 V464.3 H919.5 L922.4 467 V499.2 H925.7 V611.5 H922.4 V642.5 L919.5 645.4 H910 V640.3 H919.1 V469.4Z" fill="#b4b4b4" stroke="#000" stroke-width="0.9"/>
<rect x="919.5" y="466" width="1.6" height="175" fill="#efefef"/>
<path d="M911.8 502.5 H922.4 V606.7 H911.8Z" fill="#7a7a7a" stroke="#000" stroke-width="0.8"/>
<path d="M915 509 H925 V600.5 H915 V560 L919.5 555 L915 550Z" fill="#8a8a8a" stroke="#000" stroke-width="0.8"/>
<rect x="925.3" y="509.2" width="12.3" height="91.1" fill="url(#gEnd)" stroke="#000" stroke-width="0.9"/>
<rect x="846.2" y="527.8" width="68.4" height="53.9" fill="#8a8a8a" stroke="#000" stroke-width="0.9"/>
<rect x="849.5" y="531" width="64" height="47.5" fill="url(#gSpring)" stroke="#000" stroke-width="0.7"/>
<path d="M913.5 540 L921 546 V563 L913.5 569Z" fill="#6a6a6a" stroke="#000" stroke-width="0.7"/>
<path d="M855.0 536 L855.0 573" stroke="#000" stroke-width="5.2"/><path d="M855.0 536 L855.0 573" stroke="#f0f0f0" stroke-width="3.2"/><path d="M865.5 536 L868.0 573" stroke="#000" stroke-width="5.2"/><path d="M865.5 536 L868.0 573" stroke="#f0f0f0" stroke-width="3.2"/><path d="M878.6 536 L881.0 573" stroke="#000" stroke-width="5.2"/><path d="M878.6 536 L881.0 573" stroke="#f0f0f0" stroke-width="3.2"/><path d="M891.0 536 L893.0 573" stroke="#000" stroke-width="5.2"/><path d="M891.0 536 L893.0 573" stroke="#f0f0f0" stroke-width="3.2"/><path d="M903.0 536 L906.0 573" stroke="#000" stroke-width="5.2"/><path d="M903.0 536 L906.0 573" stroke="#f0f0f0" stroke-width="3.2"/><circle cx="853.0" cy="534.3" r="3.5" fill="#b8b8b8" stroke="#000" stroke-width="0.7"/><circle cx="857.0" cy="574.8" r="3.5" fill="#b8b8b8" stroke="#000" stroke-width="0.7"/><circle cx="863.5" cy="534.3" r="3.5" fill="#b8b8b8" stroke="#000" stroke-width="0.7"/><circle cx="870.0" cy="574.8" r="3.5" fill="#b8b8b8" stroke="#000" stroke-width="0.7"/><circle cx="876.6" cy="534.3" r="3.5" fill="#b8b8b8" stroke="#000" stroke-width="0.7"/><circle cx="883.0" cy="574.8" r="3.5" fill="#b8b8b8" stroke="#000" stroke-width="0.7"/><circle cx="889.0" cy="534.3" r="3.5" fill="#b8b8b8" stroke="#000" stroke-width="0.7"/><circle cx="895.0" cy="574.8" r="3.5" fill="#b8b8b8" stroke="#000" stroke-width="0.7"/><circle cx="901.0" cy="534.3" r="3.5" fill="#b8b8b8" stroke="#000" stroke-width="0.7"/><circle cx="908.0" cy="574.8" r="3.5" fill="#b8b8b8" stroke="#000" stroke-width="0.7"/>
<g stroke="#1f8585" stroke-width="1" fill="none">
<path d="M476 481.5H534M476 626.5H534M481.5 481.5V626.5"/>
<path d="M508.7 517.5H535M508.7 591.5H535M513.5 517.5V591.5"/>
<path d="M937.5 512.5H985.5M937.5 597.5H985.5M980.5 512.5V597.5"/>
</g>
<path d="M481.5 482.5 l-1.2 2.5 v3 l-1.4 1.6 v1.8 h5.2 v-1.8 l-1.4 -1.6 v-3 Z" fill="#1f8585"/><path d="M481.5 625.5 l-1.2 -2.5 v-3 l-1.4 -1.6 v-1.8 h5.2 v1.8 l-1.4 1.6 v3 Z" fill="#1f8585"/><path d="M513.5 518.5 l-1.2 2.5 v3 l-1.4 1.6 v1.8 h5.2 v-1.8 l-1.4 -1.6 v-3 Z" fill="#1f8585"/><path d="M513.5 590.5 l-1.2 -2.5 v-3 l-1.4 -1.6 v-1.8 h5.2 v1.8 l-1.4 1.6 v3 Z" fill="#1f8585"/><path d="M980.5 513.5 l-1.2 2.5 v3 l-1.4 1.6 v1.8 h5.2 v-1.8 l-1.4 -1.6 v-3 Z" fill="#1f8585"/><path d="M980.5 596.5 l-1.2 -2.5 v-3 l-1.4 -1.6 v-1.8 h5.2 v1.8 l-1.4 1.6 v3 Z" fill="#1f8585"/>
<g fill="#1f8585" font-size="13" font-family="Liberation Sans">
<text transform="translate(478,562) rotate(-90)">D2</text>
<text transform="translate(509,562.5) rotate(-90)">D7</text>
<text transform="translate(977.5,563) rotate(-90)">D3</text>
</g>
<path d="M718.8 653.4H715.3V661.8H718.8 M720.3 653.4H723.9V661.8H720.3Z M725.6 653V661.8H729.5V653 M731.1 662.2V653.4H734.7V657.6H731.1 M739.2 653.4H735.9V661.8H739.2M735.9 657.5H738.7 M743.4 662.2L745.5 653V662.2M743.9 657.8H747.2V662.2 M748 657.6H751 M752.3 662.2L754.4 653V662.2M752.8 657.8H756.2V662.2" stroke="#1b7a7a" stroke-width="1.15" fill="none"/><g transform="translate(916.00,166.50) rotate(48.22)">
<ellipse rx="114.5" ry="106.0" fill="#4a4a4a" stroke="#000" stroke-width="1.1"/>
<ellipse rx="112.0" ry="103.5" fill="none" stroke="#6a6a6a" stroke-width="1.2"/>
<ellipse rx="109.0" ry="100.2" fill="none" stroke="#000" stroke-width="0.9"/>
</g>
<path d="M956 70 L974 69 L986 87 L972 90Z" fill="#3e3e3e" stroke="#000" stroke-width="0.8"/>
<path d="M1016 144 L1022 148 L1028 160 L1020 168Z" fill="#3e3e3e" stroke="#000" stroke-width="0.8"/>
<defs><clipPath id="cBody"><path d="M694.05 219.96 L844.05 85.96 A108.0 99.0 48.22 0 1 987.95 247.04 L837.95 381.04 A108.0 99.0 48.22 0 1 694.05 219.96 Z"/></clipPath></defs>
<path d="M694.05 219.96 L844.05 85.96 A108.0 99.0 48.22 0 1 987.95 247.04 L837.95 381.04 A108.0 99.0 48.22 0 1 694.05 219.96 Z" fill="#1a1000"/>
<g clip-path="url(#cBody)">
<polygon points="590.04 313.68 926.48 13.12 925.82 12.38 589.31 312.85" fill="#a88424"/><polygon points="590.10 313.75 926.62 13.28 926.24 12.85 589.49 313.06" fill="#9a7a1c"/><polygon points="590.29 313.96 927.04 13.75 926.94 13.63 589.81 313.41" fill="#9a7a1c"/><polygon points="590.61 314.31 927.74 14.53 927.91 14.72 590.24 313.90" fill="#9a7a1c"/><polygon points="591.04 314.80 928.71 15.62 929.15 16.11 590.81 314.53" fill="#a88424"/><polygon points="591.61 315.43 929.95 17.00 930.65 17.79 591.50 315.31" fill="#9a7a1c"/><polygon points="592.30 316.20 931.45 18.68 932.40 19.75 592.32 316.22" fill="#9a7a1c"/><path d="M592.77 316.72 L931.92 19.20" stroke="#e8c040" stroke-width="0.7"/><polygon points="593.12 317.12 933.20 20.64 934.40 21.98 593.26 317.28" fill="#c8a02c"/><path d="M593.58 317.64 L933.67 21.17" stroke="#e8c040" stroke-width="0.7"/><polygon points="594.06 318.18 935.20 22.88 936.62 24.47 594.34 318.48" fill="#b88c22"/><path d="M594.53 318.70 L935.66 23.40" stroke="#e8c040" stroke-width="0.7"/><polygon points="595.14 319.38 937.42 25.37 939.07 27.21 595.54 319.83" fill="#c89a28"/><path d="M595.60 319.90 L937.89 25.89" stroke="#e8c040" stroke-width="0.7"/><polygon points="596.34 320.72 939.87 28.11 941.73 30.19 596.87 321.31" fill="#b88c22"/><path d="M596.80 321.24 L940.34 28.63" stroke="#e8c040" stroke-width="0.7"/><polygon points="597.67 322.21 942.53 31.08 944.57 33.37 598.33 322.95" fill="#c09434"/><path d="M598.13 322.73 L942.99 31.60" stroke="#e8c040" stroke-width="0.7"/><polygon points="599.12 323.84 945.37 34.27 947.60 36.76 599.91 324.72" fill="#d0a030"/><path d="M599.59 324.36 L945.84 34.79" stroke="#e8c040" stroke-width="0.7"/><polygon points="600.71 325.62 948.40 37.65 950.79 40.33 601.63 326.64" fill="#b88c22"/><path d="M601.18 326.14 L948.86 38.18" stroke="#e8c040" stroke-width="0.7"/><polygon points="602.43 327.54 951.59 41.22 954.12 44.06 603.47 328.71" fill="#c09434"/><path d="M602.89 328.06 L952.05 41.74" stroke="#e8c040" stroke-width="0.7"/><polygon points="604.27 329.60 954.92 44.96 957.59 47.94 605.44 330.92" fill="#b88c22"/><path d="M604.74 330.13 L955.39 45.48" stroke="#e8c040" stroke-width="0.7"/><polygon points="606.24 331.81 958.39 48.83 961.17 51.95 607.54 333.26" fill="#c89a28"/><path d="M606.71 332.33 L958.85 49.36" stroke="#e8c040" stroke-width="0.7"/><polygon points="608.34 334.16 961.97 52.84 964.84 56.06 609.76 335.75" fill="#b88c22"/><path d="M608.81 334.68 L962.43 53.36" stroke="#e8c040" stroke-width="0.7"/><polygon points="610.56 336.65 965.64 56.96 968.60 60.27 612.11 338.38" fill="#c8a02c"/><path d="M611.03 337.17 L966.11 57.48" stroke="#e8c040" stroke-width="0.7"/><polygon points="612.91 339.27 969.40 61.16 972.42 64.55 614.58 341.14" fill="#c8a02c"/><path d="M613.38 339.80 L969.87 61.69" stroke="#e8c040" stroke-width="0.7"/><polygon points="615.38 342.03 973.22 65.44 976.29 68.88 617.16 344.03" fill="#c09434"/><path d="M615.84 342.56 L973.69 65.97" stroke="#e8c040" stroke-width="0.7"/><polygon points="617.96 344.93 977.09 69.78 980.20 73.25 619.86 347.05" fill="#b88c22"/><path d="M618.43 345.45 L977.56 70.30" stroke="#e8c040" stroke-width="0.7"/><polygon points="620.66 347.95 981.00 74.14 984.11 77.64 622.67 350.20" fill="#b88c22"/><path d="M621.13 348.47 L981.46 74.67" stroke="#e8c040" stroke-width="0.7"/><polygon points="623.47 351.10 984.91 78.53 988.04 82.02 625.59 353.47" fill="#c89a28"/><path d="M623.94 351.62 L985.38 79.05" stroke="#e8c040" stroke-width="0.7"/><polygon points="626.39 354.36 988.83 82.92 991.94 86.40 628.61 356.85" fill="#c89a28"/><path d="M626.85 354.88 L989.30 83.44" stroke="#e8c040" stroke-width="0.7"/><polygon points="629.41 357.74 992.74 87.29 995.83 90.74 631.72 360.33" fill="#b88c22"/><path d="M629.87 358.26 L993.21 87.82" stroke="#e8c040" stroke-width="0.7"/><polygon points="632.52 361.23 996.63 91.64 999.67 95.05 634.93 363.92" fill="#b88c22"/><path d="M632.99 361.75 L997.09 92.16" stroke="#e8c040" stroke-width="0.7"/><polygon points="635.73 364.82 1000.47 95.94 1003.46 99.29 638.22 367.60" fill="#b88c22"/><path d="M636.19 365.34 L1000.94 96.46" stroke="#e8c040" stroke-width="0.7"/><polygon points="639.02 368.50 1004.26 100.19 1007.19 103.47 641.58 371.37" fill="#b88c22"/><path d="M639.48 369.02 L1004.73 100.71" stroke="#e8c040" stroke-width="0.7"/><polygon points="642.38 372.27 1007.99 104.36 1010.85 107.56 645.02 375.22" fill="#d0a030"/><path d="M642.85 372.79 L1008.46 104.89" stroke="#e8c040" stroke-width="0.7"/><polygon points="645.82 376.11 1011.65 108.46 1014.43 111.57 648.52 379.13" fill="#d0a030"/><path d="M646.29 376.64 L1012.12 108.98" stroke="#e8c040" stroke-width="0.7"/><polygon points="649.32 380.03 1015.23 112.46 1017.92 115.47 652.07 383.11" fill="#b88c22"/><path d="M649.78 380.55 L1015.69 112.99" stroke="#e8c040" stroke-width="0.7"/><polygon points="652.87 384.00 1018.72 116.37 1021.31 119.27 655.66 387.13" fill="#f2bc2e"/><path d="M653.33 384.52 L1019.18 116.89" stroke="#f8d050" stroke-width="0.7"/><polygon points="656.46 388.02 1022.11 120.16 1024.59 122.95 659.29 391.19" fill="#e8b02a"/><path d="M656.93 388.55 L1022.57 120.69" stroke="#f8d050" stroke-width="0.7"/><polygon points="660.09 392.08 1025.39 123.84 1027.77 126.51 662.94 395.28" fill="#e8b02a"/><path d="M660.55 392.61 L1025.86 124.37" stroke="#f8d050" stroke-width="0.7"/><polygon points="663.74 396.17 1028.57 127.40 1030.84 129.94 666.61 399.38" fill="#e8b02a"/><path d="M664.21 396.69 L1029.04 127.92" stroke="#f8d050" stroke-width="0.7"/><polygon points="667.41 400.28 1031.64 130.83 1033.78 133.23 670.28 403.49" fill="#e0a828"/><path d="M667.87 400.80 L1032.10 131.35" stroke="#f8d050" stroke-width="0.7"/><polygon points="671.08 404.39 1034.58 134.13 1036.61 136.40 673.94 407.59" fill="#f4c030"/><path d="M671.54 404.91 L1035.05 134.65" stroke="#f8d050" stroke-width="0.7"/><polygon points="674.74 408.49 1037.41 137.29 1039.31 139.42 677.59 411.67" fill="#f0b82a"/><path d="M675.21 409.01 L1037.87 137.81" stroke="#f8d050" stroke-width="0.7"/><polygon points="678.39 412.57 1040.11 140.32 1041.89 142.31 681.21 415.72" fill="#f4c030"/><path d="M678.85 413.09 L1040.57 140.84" stroke="#f8d050" stroke-width="0.7"/><polygon points="682.01 416.62 1042.69 143.20 1044.34 145.05 684.78 419.73" fill="#e0a828"/><path d="M682.47 417.14 L1043.15 143.72" stroke="#f8d050" stroke-width="0.7"/><polygon points="685.58 420.62 1045.14 145.94 1046.66 147.65 688.31 423.68" fill="#e8b02a"/><path d="M686.05 421.15 L1045.60 146.47" stroke="#f8d050" stroke-width="0.7"/><polygon points="689.11 424.57 1047.46 148.55 1048.86 150.11 691.78 427.56" fill="#e8b02a"/><path d="M689.58 425.10 L1047.93 149.07" stroke="#f8d050" stroke-width="0.7"/><polygon points="692.58 428.45 1049.66 151.01 1050.94 152.44 695.17 431.35" fill="#f4c030"/><path d="M693.04 428.97 L1050.13 151.53" stroke="#f8d050" stroke-width="0.7"/><polygon points="695.97 432.25 1051.74 153.33 1052.89 154.62 698.48 435.06" fill="#f0b82a"/><path d="M696.44 432.77 L1052.20 153.85" stroke="#f8d050" stroke-width="0.7"/><polygon points="699.28 435.95 1053.69 155.52 1054.72 156.67 701.69 438.66" fill="#f4c030"/><path d="M699.74 436.48 L1054.16 156.04" stroke="#f8d050" stroke-width="0.7"/><polygon points="702.49 439.55 1055.52 157.57 1056.43 158.58 704.80 442.13" fill="#f4c030"/><path d="M702.96 440.07 L1055.99 158.09" stroke="#f8d050" stroke-width="0.7"/><polygon points="705.60 443.03 1057.23 159.48 1058.02 160.37 707.79 445.48" fill="#f2bc2e"/><path d="M706.07 443.55 L1057.69 160.00" stroke="#f8d050" stroke-width="0.7"/><polygon points="708.59 446.38 1058.82 161.26 1059.50 162.02 710.66 448.69" fill="#f2bc2e"/><path d="M709.06 446.90 L1059.29 161.78" stroke="#f8d050" stroke-width="0.7"/><polygon points="711.46 449.59 1060.30 162.91 1060.86 163.55 713.39 451.75" fill="#f0b82a"/><path d="M711.92 450.11 L1060.76 163.44" stroke="#f8d050" stroke-width="0.7"/><polygon points="714.19 452.64 1061.66 164.44 1062.12 164.95 715.97 454.64" fill="#f2bc2e"/><path d="M714.65 453.17 L1062.13 164.96" stroke="#f8d050" stroke-width="0.7"/><polygon points="716.77 455.54 1062.92 165.85 1063.26 166.24 718.41 457.37" fill="#f4c030"/><path d="M717.24 456.06 L1063.38 166.37" stroke="#f8d050" stroke-width="0.7"/><polygon points="719.21 458.26 1064.06 167.13 1064.31 167.40 720.68 459.91" fill="#f0b82a"/><path d="M719.67 458.78 L1064.53 167.65" stroke="#f8d050" stroke-width="0.7"/><polygon points="721.48 460.80 1065.11 168.30 1065.25 168.46 722.78 462.26" fill="#f4c030"/><path d="M721.94 461.32 L1065.57 168.82" stroke="#f8d050" stroke-width="0.7"/><polygon points="723.58 463.15 1066.05 169.35 1066.09 169.40 724.70 464.41" fill="#f4c030"/><path d="M724.04 463.68 L1066.52 169.88" stroke="#f8d050" stroke-width="0.7"/><polygon points="725.50 465.31 1066.89 170.30 1066.84 170.24 726.44 466.36" fill="#f4c030"/><path d="M725.97 465.83 L1067.36 170.82" stroke="#f8d050" stroke-width="0.7"/><polygon points="727.24 467.25 1067.64 171.13 1067.49 170.97 727.99 468.09" fill="#e0a828"/><path d="M727.70 467.77 L1068.11 171.66" stroke="#f8d050" stroke-width="0.7"/><polygon points="728.79 468.99 1068.29 171.86 1068.05 171.60 729.34 469.61" fill="#f4c030"/><path d="M729.25 469.51 L1068.76 172.39" stroke="#f8d050" stroke-width="0.7"/><polygon points="730.14 470.50 1068.85 172.49 1068.53 172.13 730.49 470.90" fill="#e8b02a"/><path d="M730.61 471.02 L1069.32 173.01" stroke="#f8d050" stroke-width="0.7"/><polygon points="731.29 471.79 1069.33 173.02 1068.91 172.55 731.44 471.96" fill="#e0a828"/><path d="M731.76 472.32 L1069.79 173.54" stroke="#f8d050" stroke-width="0.7"/><polygon points="732.24 472.86 1069.71 173.45 1069.21 172.89 732.19 472.79" fill="#e0a828"/><path d="M732.71 473.38 L1070.17 173.97" stroke="#f8d050" stroke-width="0.7"/><polygon points="732.99 473.69 1070.01 173.78 1069.42 173.12 732.72 473.39" fill="#e8b02a"/><path d="M733.45 474.21 L1070.47 174.30" stroke="#f8d050" stroke-width="0.7"/><polygon points="733.52 474.28 1070.22 174.02 1069.54 173.26 733.04 473.75" fill="#f0b82a"/><path d="M733.98 474.80 L1070.68 174.54" stroke="#f8d050" stroke-width="0.7"/><polygon points="733.84 474.64 1070.34 174.16 1069.59 173.31 733.14 473.86" fill="#f4c030"/><path d="M734.30 475.16 L1070.81 174.68" stroke="#f8d050" stroke-width="0.7"/>
<path d="M658.10 389.86 L994.24 111.48" stroke="#000" stroke-width="1.6" stroke-dasharray="6 2"/>
</g>
<g transform="translate(766.00,300.50) rotate(48.22)">
<ellipse cx="-1" cy="-7" rx="108.5" ry="98.5" fill="#b8b8b8" stroke="#000" stroke-width="1"/>
<ellipse cx="-1" cy="-4.8" rx="108.5" ry="98.5" fill="#f4f4f4" stroke="#000" stroke-width="0.8"/>
<ellipse cx="-1" cy="-1.6" rx="108.5" ry="98.5" fill="#dcdcdc" stroke="none"/>
<ellipse cx="-1" cy="0" rx="108.5" ry="98.5" fill="#898989" stroke="#000" stroke-width="1.1"/>
<ellipse cx="0" cy="0" rx="105.0" ry="96.0" fill="none" stroke="#2a2a2a" stroke-width="0.6"/>
</g>
<ellipse transform="translate(763.0,300.0) rotate(48.2)" rx="66.0" ry="63.0" fill="#6c6c6c" stroke="#000" stroke-width="1.10"/>
<ellipse transform="translate(760.5,300.0) rotate(48.2)" rx="56.0" ry="53.0" fill="#5e5e5e" stroke="#000" stroke-width="0.90"/>
<ellipse transform="translate(761.0,300.5) rotate(48.2)" rx="50.0" ry="48.0" fill="none" stroke="#000" stroke-width="0.90"/>
<ellipse transform="translate(763.0,300.5) rotate(48.2)" rx="43.5" ry="42.0" fill="#777777" stroke="#000" stroke-width="0.90"/>
<ellipse transform="translate(765.0,298.0) rotate(48.2)" rx="24.7" ry="23.5" fill="none" stroke="#000" stroke-width="1.00"/>
<defs><radialGradient id="gHub3" cx="0.7" cy="0.35" r="0.7"><stop offset="0" stop-color="#d0d0d0"/><stop offset="1" stop-color="#3c3c3c"/></radialGradient></defs>
<circle cx="767" cy="297" r="14.8" fill="url(#gHub3)" stroke="#000" stroke-width="1"/>
<circle cx="764" cy="299.5" r="8.8" fill="#7a7a7a" stroke="#000" stroke-width="1"/>
<circle cx="764" cy="299.5" r="5.5" fill="#8e8e8e" stroke="#000" stroke-width="0.8"/><rect x="884.2" y="655" width="231" height="73" fill="#fff"/>
<path d="M884.2 654.5V728M883.2 655H1115" stroke="#000" stroke-width="2"/>
<path d="M933.5 655V728M884 674.3H1115M884 692.5H1115M884 710.7H1115M1030.3 655V674.3M1091.5 710.7V728" stroke="#000" stroke-width="1.6"/>
<g font-family="Liberation Sans" fill="#9a9a9a" font-size="4.2">
<text x="886" y="660.5">Matière :</text><text x="935" y="660.5">Date :</text><text x="1032" y="660.5">Dessiné par :</text>
<text x="886" y="678.5">Feuille :</text><text x="935.5" y="678.5">Titre :</text><text x="1093" y="715">Rév. :</text>
</g>
<g font-family="Liberation Sans" fill="#8a8a8a">
<text x="1027" y="670.3" font-size="7.3" text-anchor="end" letter-spacing="-0.3">10/02/2011</text>
<text x="1111.8" y="670.3" font-size="7.3" text-anchor="end">RATTEO</text>
<text x="912.3" y="687.5" font-size="5.6" text-anchor="middle" letter-spacing="0.6" fill="#a0a0a0">1 / 1</text>
<text x="1021.5" y="705.5" font-size="8.6" text-anchor="middle" letter-spacing="1.0" fill="#787878">www.solidedge.com</text>
</g>
<text x="1027" y="687.8" font-family="Liberation Sans" font-size="16.6" text-anchor="middle" fill="#c42424" letter-spacing="0.6">PLHC_0267</text>
<text x="1011.3" y="724.8" font-family="Liberation Sans" font-weight="bold" font-size="16.6" text-anchor="middle" fill="#d01414">HIFI FILTER</text>
<g font-family="Liberation Sans" font-weight="bold" fill="#000">
<text x="909" y="718.6" font-size="7" text-anchor="middle" letter-spacing="0.25">Solid Edge</text>
<text x="909" y="726.2" font-size="5.2" text-anchor="middle">005</text>
</g>
<g stroke="#000" stroke-width="1" fill="none">
<path d="M889 701.6H904M893.5 699.6V703.8L904 706.5H911.3V696.5H904Z M904 696.5V706.5"/>
<circle cx="921" cy="701.7" r="4.2"/><circle cx="921" cy="701.7" r="2.3"/><path d="M914.5 701.7H929M921 694.5V708.5"/>
</g>
</svg></body></html>
